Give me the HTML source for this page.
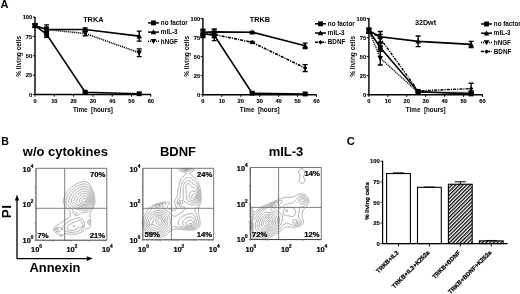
<!DOCTYPE html>
<html><head><meta charset="utf-8"><style>
html,body{margin:0;padding:0;background:#fff;overflow:hidden;}
svg{display:block;}
text{font-family:'Liberation Sans',Arial,sans-serif;}
.sb{stroke:#000;stroke-width:0.22px;}
.sc{stroke:#000;stroke-width:0.12px;}
</style></head><body>
<svg width="520" height="294" viewBox="0 0 520 294">
<rect width="520" height="294" fill="#fff"/>
<path d="M35.00,16.70 V94.50 H150.80" fill="none" stroke="#000" stroke-width="1.4"/>
<path d="M32.80,94.50 H35.00" stroke="#000" stroke-width="1"/>
<text x="32.20" y="96.60" font-size="5.7" font-weight="bold" text-anchor="end" fill="#000" class="sc">0</text>
<path d="M32.80,75.17 H35.00" stroke="#000" stroke-width="1"/>
<text x="32.20" y="77.27" font-size="5.7" font-weight="bold" text-anchor="end" fill="#000" class="sc">25</text>
<path d="M32.80,55.85 H35.00" stroke="#000" stroke-width="1"/>
<text x="32.20" y="57.95" font-size="5.7" font-weight="bold" text-anchor="end" fill="#000" class="sc">50</text>
<path d="M32.80,36.52 H35.00" stroke="#000" stroke-width="1"/>
<text x="32.20" y="38.62" font-size="5.7" font-weight="bold" text-anchor="end" fill="#000" class="sc">75</text>
<path d="M32.80,17.20 H35.00" stroke="#000" stroke-width="1"/>
<text x="32.20" y="19.30" font-size="5.7" font-weight="bold" text-anchor="end" fill="#000" class="sc">100</text>
<path d="M35.00,94.50 V96.70" stroke="#000" stroke-width="1"/>
<text x="35.00" y="102.90" font-size="5.7" font-weight="bold" text-anchor="middle" fill="#000" class="sc">0</text>
<path d="M54.30,94.50 V96.70" stroke="#000" stroke-width="1"/>
<text x="54.30" y="102.90" font-size="5.7" font-weight="bold" text-anchor="middle" fill="#000" class="sc">10</text>
<path d="M73.60,94.50 V96.70" stroke="#000" stroke-width="1"/>
<text x="73.60" y="102.90" font-size="5.7" font-weight="bold" text-anchor="middle" fill="#000" class="sc">20</text>
<path d="M92.90,94.50 V96.70" stroke="#000" stroke-width="1"/>
<text x="92.90" y="102.90" font-size="5.7" font-weight="bold" text-anchor="middle" fill="#000" class="sc">30</text>
<path d="M112.20,94.50 V96.70" stroke="#000" stroke-width="1"/>
<text x="112.20" y="102.90" font-size="5.7" font-weight="bold" text-anchor="middle" fill="#000" class="sc">40</text>
<path d="M131.50,94.50 V96.70" stroke="#000" stroke-width="1"/>
<text x="131.50" y="102.90" font-size="5.7" font-weight="bold" text-anchor="middle" fill="#000" class="sc">50</text>
<path d="M150.80,94.50 V96.70" stroke="#000" stroke-width="1"/>
<text x="150.80" y="102.90" font-size="5.7" font-weight="bold" text-anchor="middle" fill="#000" class="sc">60</text>
<text x="92.90" y="111.80" font-size="6.3" font-weight="bold" text-anchor="middle" fill="#000" >Time&#160;&#160;[hours]</text>
<text x="21.00" y="56.30" font-size="6.5" font-weight="bold" text-anchor="middle" fill="#000" transform="rotate(-90 21.00 56.3)">% living cells</text>
<text x="93.30" y="21.80" font-size="7.3" font-weight="bold" text-anchor="middle" fill="#000" >TRKA</text>
<path d="M35.00,25.70 L46.58,34.21 L85.18,92.18 L139.22,93.73" fill="none" stroke="#000" stroke-width="1.6" />
<path d="M35.00,24.16 V27.25 M32.50,24.16 h5.0 M32.50,27.25 h5.0" stroke="#000" stroke-width="1.35" fill="none"/>
<path d="M46.58,31.11 V37.30 M44.08,31.11 h5.0 M44.08,37.30 h5.0" stroke="#000" stroke-width="1.35" fill="none"/>
<path d="M85.18,91.41 V92.95 M82.68,91.41 h5.0 M82.68,92.95 h5.0" stroke="#000" stroke-width="1.35" fill="none"/>
<path d="M139.22,92.95 V94.50 M136.72,92.95 h5.0 M136.72,94.50 h5.0" stroke="#000" stroke-width="1.35" fill="none"/>
<rect x="32.55" y="23.25" width="4.90" height="4.90" fill="#000"/>
<rect x="44.13" y="31.76" width="4.90" height="4.90" fill="#000"/>
<rect x="82.73" y="89.73" width="4.90" height="4.90" fill="#000"/>
<rect x="136.77" y="91.28" width="4.90" height="4.90" fill="#000"/>
<path d="M35.00,25.70 L46.58,29.57 L85.18,29.57 L139.22,36.14" fill="none" stroke="#000" stroke-width="1.6" />
<path d="M35.00,24.16 V27.25 M32.50,24.16 h5.0 M32.50,27.25 h5.0" stroke="#000" stroke-width="1.35" fill="none"/>
<path d="M46.58,24.93 V34.21 M44.08,24.93 h5.0 M44.08,34.21 h5.0" stroke="#000" stroke-width="1.35" fill="none"/>
<path d="M85.18,28.02 V31.11 M82.68,28.02 h5.0 M82.68,31.11 h5.0" stroke="#000" stroke-width="1.35" fill="none"/>
<path d="M139.22,31.11 V41.16 M136.72,31.11 h5.0 M136.72,41.16 h5.0" stroke="#000" stroke-width="1.35" fill="none"/>
<path d="M35.00,22.90 L37.80,27.94 L32.20,27.94Z" fill="#000"/>
<path d="M46.58,26.77 L49.38,31.81 L43.78,31.81Z" fill="#000"/>
<path d="M85.18,26.77 L87.98,31.81 L82.38,31.81Z" fill="#000"/>
<path d="M139.22,33.34 L142.02,38.38 L136.42,38.38Z" fill="#000"/>
<path d="M35.00,25.70 L46.58,29.57 L85.18,33.43 L139.22,52.76" fill="none" stroke="#000" stroke-width="1.6" stroke-dasharray="1.1 0.9"/>
<path d="M35.00,24.16 V27.25 M32.50,24.16 h5.0 M32.50,27.25 h5.0" stroke="#000" stroke-width="1.35" fill="none"/>
<path d="M46.58,27.25 V31.89 M44.08,27.25 h5.0 M44.08,31.89 h5.0" stroke="#000" stroke-width="1.35" fill="none"/>
<path d="M85.18,31.11 V35.75 M82.68,31.11 h5.0 M82.68,35.75 h5.0" stroke="#000" stroke-width="1.35" fill="none"/>
<path d="M139.22,48.89 V56.62 M136.72,48.89 h5.0 M136.72,56.62 h5.0" stroke="#000" stroke-width="1.35" fill="none"/>
<path d="M35.00,28.50 L37.80,23.46 L32.20,23.46Z" fill="#000"/>
<path d="M46.58,32.37 L49.38,27.33 L43.78,27.33Z" fill="#000"/>
<path d="M85.18,36.23 L87.98,31.19 L82.38,31.19Z" fill="#000"/>
<path d="M139.22,55.56 L142.02,50.52 L136.42,50.52Z" fill="#000"/>
<path d="M148.00,22.90 h11" stroke="#000" stroke-width="1.5" />
<rect x="151.05" y="20.45" width="4.90" height="4.90" fill="#000"/>
<text x="160.80" y="25.10" font-size="6.3" font-weight="bold" text-anchor="start" fill="#000" >no factor</text>
<path d="M148.00,32.10 h11" stroke="#000" stroke-width="1.5" />
<path d="M153.50,29.30 L156.30,34.34 L150.70,34.34Z" fill="#000"/>
<text x="160.80" y="34.30" font-size="6.3" font-weight="bold" text-anchor="start" fill="#000" >mIL-3</text>
<path d="M148.00,41.30 h11" stroke="#000" stroke-width="1.5" stroke-dasharray="1.1 0.9"/>
<path d="M153.50,44.10 L156.30,39.06 L150.70,39.06Z" fill="#000"/>
<text x="160.80" y="43.50" font-size="6.3" font-weight="bold" text-anchor="start" fill="#000" >hNGF</text>
<path d="M202.90,18.00 V94.70 H316.50" fill="none" stroke="#000" stroke-width="1.4"/>
<path d="M200.70,94.70 H202.90" stroke="#000" stroke-width="1"/>
<text x="200.10" y="96.80" font-size="5.7" font-weight="bold" text-anchor="end" fill="#000" class="sc">0</text>
<path d="M200.70,75.65 H202.90" stroke="#000" stroke-width="1"/>
<text x="200.10" y="77.75" font-size="5.7" font-weight="bold" text-anchor="end" fill="#000" class="sc">25</text>
<path d="M200.70,56.60 H202.90" stroke="#000" stroke-width="1"/>
<text x="200.10" y="58.70" font-size="5.7" font-weight="bold" text-anchor="end" fill="#000" class="sc">50</text>
<path d="M200.70,37.55 H202.90" stroke="#000" stroke-width="1"/>
<text x="200.10" y="39.65" font-size="5.7" font-weight="bold" text-anchor="end" fill="#000" class="sc">75</text>
<path d="M200.70,18.50 H202.90" stroke="#000" stroke-width="1"/>
<text x="200.10" y="20.60" font-size="5.7" font-weight="bold" text-anchor="end" fill="#000" class="sc">100</text>
<path d="M202.90,94.70 V96.90" stroke="#000" stroke-width="1"/>
<text x="202.90" y="103.10" font-size="5.7" font-weight="bold" text-anchor="middle" fill="#000" class="sc">0</text>
<path d="M221.83,94.70 V96.90" stroke="#000" stroke-width="1"/>
<text x="221.83" y="103.10" font-size="5.7" font-weight="bold" text-anchor="middle" fill="#000" class="sc">10</text>
<path d="M240.77,94.70 V96.90" stroke="#000" stroke-width="1"/>
<text x="240.77" y="103.10" font-size="5.7" font-weight="bold" text-anchor="middle" fill="#000" class="sc">20</text>
<path d="M259.70,94.70 V96.90" stroke="#000" stroke-width="1"/>
<text x="259.70" y="103.10" font-size="5.7" font-weight="bold" text-anchor="middle" fill="#000" class="sc">30</text>
<path d="M278.63,94.70 V96.90" stroke="#000" stroke-width="1"/>
<text x="278.63" y="103.10" font-size="5.7" font-weight="bold" text-anchor="middle" fill="#000" class="sc">40</text>
<path d="M297.57,94.70 V96.90" stroke="#000" stroke-width="1"/>
<text x="297.57" y="103.10" font-size="5.7" font-weight="bold" text-anchor="middle" fill="#000" class="sc">50</text>
<path d="M316.50,94.70 V96.90" stroke="#000" stroke-width="1"/>
<text x="316.50" y="103.10" font-size="5.7" font-weight="bold" text-anchor="middle" fill="#000" class="sc">60</text>
<text x="259.70" y="111.80" font-size="6.3" font-weight="bold" text-anchor="middle" fill="#000" >Time&#160;&#160;[hours]</text>
<text x="189.00" y="56.30" font-size="6.5" font-weight="bold" text-anchor="middle" fill="#000" transform="rotate(-90 189.00 56.3)">% living cells</text>
<text x="260.00" y="22.20" font-size="7.3" font-weight="bold" text-anchor="middle" fill="#000" >TRKB</text>
<path d="M202.90,33.74 L214.26,35.26 L252.13,93.18 L305.14,93.94" fill="none" stroke="#000" stroke-width="1.6" />
<path d="M202.90,29.93 V37.55 M200.40,29.93 h5.0 M200.40,37.55 h5.0" stroke="#000" stroke-width="1.35" fill="none"/>
<path d="M214.26,29.93 V40.60 M211.76,29.93 h5.0 M211.76,40.60 h5.0" stroke="#000" stroke-width="1.35" fill="none"/>
<path d="M252.13,92.41 V93.94 M249.63,92.41 h5.0 M249.63,93.94 h5.0" stroke="#000" stroke-width="1.35" fill="none"/>
<path d="M305.14,93.18 V94.70 M302.64,93.18 h5.0 M302.64,94.70 h5.0" stroke="#000" stroke-width="1.35" fill="none"/>
<rect x="200.45" y="31.29" width="4.90" height="4.90" fill="#000"/>
<rect x="211.81" y="32.81" width="4.90" height="4.90" fill="#000"/>
<rect x="249.68" y="90.73" width="4.90" height="4.90" fill="#000"/>
<rect x="302.69" y="91.49" width="4.90" height="4.90" fill="#000"/>
<path d="M202.90,32.22 L214.26,31.91 L252.13,32.22 L305.14,45.78" fill="none" stroke="#000" stroke-width="1.6" />
<path d="M202.90,29.17 V35.26 M200.40,29.17 h5.0 M200.40,35.26 h5.0" stroke="#000" stroke-width="1.35" fill="none"/>
<path d="M214.26,28.86 V34.96 M211.76,28.86 h5.0 M211.76,34.96 h5.0" stroke="#000" stroke-width="1.35" fill="none"/>
<path d="M252.13,31.45 V32.98 M249.63,31.45 h5.0 M249.63,32.98 h5.0" stroke="#000" stroke-width="1.35" fill="none"/>
<path d="M305.14,43.11 V48.45 M302.64,43.11 h5.0 M302.64,48.45 h5.0" stroke="#000" stroke-width="1.35" fill="none"/>
<path d="M202.90,29.42 L205.70,34.46 L200.10,34.46Z" fill="#000"/>
<path d="M214.26,29.11 L217.06,34.15 L211.46,34.15Z" fill="#000"/>
<path d="M252.13,29.42 L254.93,34.46 L249.33,34.46Z" fill="#000"/>
<path d="M305.14,42.98 L307.94,48.02 L302.34,48.02Z" fill="#000"/>
<path d="M202.90,33.74 L214.26,34.50 L252.13,42.27 L305.14,68.03" fill="none" stroke="#000" stroke-width="1.6" stroke-dasharray="3 1.1 1.1 1.1"/>
<path d="M202.90,30.69 V36.79 M200.40,30.69 h5.0 M200.40,36.79 h5.0" stroke="#000" stroke-width="1.35" fill="none"/>
<path d="M214.26,31.45 V37.55 M211.76,31.45 h5.0 M211.76,37.55 h5.0" stroke="#000" stroke-width="1.35" fill="none"/>
<path d="M252.13,41.51 V43.04 M249.63,41.51 h5.0 M249.63,43.04 h5.0" stroke="#000" stroke-width="1.35" fill="none"/>
<path d="M305.14,64.60 V71.46 M302.64,64.60 h5.0 M302.64,71.46 h5.0" stroke="#000" stroke-width="1.35" fill="none"/>
<path d="M202.90,31.54 L205.10,33.74 L202.90,35.94 L200.70,33.74Z" fill="#000"/>
<path d="M214.26,32.30 L216.46,34.50 L214.26,36.70 L212.06,34.50Z" fill="#000"/>
<path d="M252.13,40.07 L254.33,42.27 L252.13,44.47 L249.93,42.27Z" fill="#000"/>
<path d="M305.14,65.83 L307.34,68.03 L305.14,70.23 L302.94,68.03Z" fill="#000"/>
<path d="M315.00,23.80 h11" stroke="#000" stroke-width="1.5" />
<rect x="318.05" y="21.35" width="4.90" height="4.90" fill="#000"/>
<text x="327.80" y="26.00" font-size="6.3" font-weight="bold" text-anchor="start" fill="#000" >no factor</text>
<path d="M315.00,33.00 h11" stroke="#000" stroke-width="1.5" />
<path d="M320.50,30.20 L323.30,35.24 L317.70,35.24Z" fill="#000"/>
<text x="327.80" y="35.20" font-size="6.3" font-weight="bold" text-anchor="start" fill="#000" >mIL-3</text>
<path d="M315.00,42.20 h11" stroke="#000" stroke-width="1.5" stroke-dasharray="3 1.1 1.1 1.1"/>
<path d="M320.50,40.00 L322.70,42.20 L320.50,44.40 L318.30,42.20Z" fill="#000"/>
<text x="327.80" y="44.40" font-size="6.3" font-weight="bold" text-anchor="start" fill="#000" >BDNF</text>
<path d="M368.90,18.00 V94.70 H482.50" fill="none" stroke="#000" stroke-width="1.4"/>
<path d="M366.70,94.70 H368.90" stroke="#000" stroke-width="1"/>
<text x="366.10" y="96.80" font-size="5.7" font-weight="bold" text-anchor="end" fill="#000" class="sc">0</text>
<path d="M366.70,75.65 H368.90" stroke="#000" stroke-width="1"/>
<text x="366.10" y="77.75" font-size="5.7" font-weight="bold" text-anchor="end" fill="#000" class="sc">25</text>
<path d="M366.70,56.60 H368.90" stroke="#000" stroke-width="1"/>
<text x="366.10" y="58.70" font-size="5.7" font-weight="bold" text-anchor="end" fill="#000" class="sc">50</text>
<path d="M366.70,37.55 H368.90" stroke="#000" stroke-width="1"/>
<text x="366.10" y="39.65" font-size="5.7" font-weight="bold" text-anchor="end" fill="#000" class="sc">75</text>
<path d="M366.70,18.50 H368.90" stroke="#000" stroke-width="1"/>
<text x="366.10" y="20.60" font-size="5.7" font-weight="bold" text-anchor="end" fill="#000" class="sc">100</text>
<path d="M368.90,94.70 V96.90" stroke="#000" stroke-width="1"/>
<text x="368.90" y="103.10" font-size="5.7" font-weight="bold" text-anchor="middle" fill="#000" class="sc">0</text>
<path d="M387.83,94.70 V96.90" stroke="#000" stroke-width="1"/>
<text x="387.83" y="103.10" font-size="5.7" font-weight="bold" text-anchor="middle" fill="#000" class="sc">10</text>
<path d="M406.77,94.70 V96.90" stroke="#000" stroke-width="1"/>
<text x="406.77" y="103.10" font-size="5.7" font-weight="bold" text-anchor="middle" fill="#000" class="sc">20</text>
<path d="M425.70,94.70 V96.90" stroke="#000" stroke-width="1"/>
<text x="425.70" y="103.10" font-size="5.7" font-weight="bold" text-anchor="middle" fill="#000" class="sc">30</text>
<path d="M444.63,94.70 V96.90" stroke="#000" stroke-width="1"/>
<text x="444.63" y="103.10" font-size="5.7" font-weight="bold" text-anchor="middle" fill="#000" class="sc">40</text>
<path d="M463.57,94.70 V96.90" stroke="#000" stroke-width="1"/>
<text x="463.57" y="103.10" font-size="5.7" font-weight="bold" text-anchor="middle" fill="#000" class="sc">50</text>
<path d="M482.50,94.70 V96.90" stroke="#000" stroke-width="1"/>
<text x="482.50" y="103.10" font-size="5.7" font-weight="bold" text-anchor="middle" fill="#000" class="sc">60</text>
<text x="425.70" y="111.80" font-size="6.3" font-weight="bold" text-anchor="middle" fill="#000" >Time&#160;&#160;[hours]</text>
<text x="355.00" y="56.30" font-size="6.5" font-weight="bold" text-anchor="middle" fill="#000" transform="rotate(-90 355.00 56.3)">% living cells</text>
<text x="425.50" y="24.70" font-size="7.2" font-weight="bold" text-anchor="middle" fill="#000" >32Dwt</text>
<path d="M368.90,30.69 L380.26,47.46 L418.13,91.65 L471.14,93.94" fill="none" stroke="#000" stroke-width="1.6" />
<path d="M368.90,28.41 V32.98 M366.40,28.41 h5.0 M366.40,32.98 h5.0" stroke="#000" stroke-width="1.35" fill="none"/>
<path d="M380.26,43.65 V51.27 M377.76,43.65 h5.0 M377.76,51.27 h5.0" stroke="#000" stroke-width="1.35" fill="none"/>
<path d="M418.13,90.89 V92.41 M415.63,90.89 h5.0 M415.63,92.41 h5.0" stroke="#000" stroke-width="1.35" fill="none"/>
<path d="M471.14,93.18 V94.70 M468.64,93.18 h5.0 M468.64,94.70 h5.0" stroke="#000" stroke-width="1.35" fill="none"/>
<rect x="366.45" y="28.24" width="4.90" height="4.90" fill="#000"/>
<rect x="377.81" y="45.01" width="4.90" height="4.90" fill="#000"/>
<rect x="415.68" y="89.20" width="4.90" height="4.90" fill="#000"/>
<rect x="468.69" y="91.49" width="4.90" height="4.90" fill="#000"/>
<path d="M368.90,30.69 L380.26,36.79 L418.13,41.36 L471.14,44.41" fill="none" stroke="#000" stroke-width="1.6" />
<path d="M368.90,28.41 V32.98 M366.40,28.41 h5.0 M366.40,32.98 h5.0" stroke="#000" stroke-width="1.35" fill="none"/>
<path d="M380.26,31.45 V42.12 M377.76,31.45 h5.0 M377.76,42.12 h5.0" stroke="#000" stroke-width="1.35" fill="none"/>
<path d="M418.13,36.03 V46.69 M415.63,36.03 h5.0 M415.63,46.69 h5.0" stroke="#000" stroke-width="1.35" fill="none"/>
<path d="M471.14,41.36 V47.46 M468.64,41.36 h5.0 M468.64,47.46 h5.0" stroke="#000" stroke-width="1.35" fill="none"/>
<path d="M368.90,27.89 L371.70,32.93 L366.10,32.93Z" fill="#000"/>
<path d="M380.26,33.99 L383.06,39.03 L377.46,39.03Z" fill="#000"/>
<path d="M418.13,38.56 L420.93,43.60 L415.33,43.60Z" fill="#000"/>
<path d="M471.14,41.61 L473.94,46.65 L468.34,46.65Z" fill="#000"/>
<path d="M368.90,30.69 L380.26,58.12 L418.13,92.41 L471.14,92.41" fill="none" stroke="#000" stroke-width="1.4" stroke-dasharray="1.1 0.9"/>
<path d="M368.90,28.41 V32.98 M366.40,28.41 h5.0 M366.40,32.98 h5.0" stroke="#000" stroke-width="1.35" fill="none"/>
<path d="M380.26,51.27 V64.98 M377.76,51.27 h5.0 M377.76,64.98 h5.0" stroke="#000" stroke-width="1.35" fill="none"/>
<path d="M418.13,91.65 V93.18 M415.63,91.65 h5.0 M415.63,93.18 h5.0" stroke="#000" stroke-width="1.35" fill="none"/>
<path d="M471.14,91.65 V93.18 M468.64,91.65 h5.0 M468.64,93.18 h5.0" stroke="#000" stroke-width="1.35" fill="none"/>
<path d="M368.90,33.49 L371.70,28.45 L366.10,28.45Z" fill="#000"/>
<path d="M380.26,60.92 L383.06,55.88 L377.46,55.88Z" fill="#000"/>
<path d="M418.13,95.21 L420.93,90.17 L415.33,90.17Z" fill="#000"/>
<path d="M471.14,95.21 L473.94,90.17 L468.34,90.17Z" fill="#000"/>
<path d="M368.90,30.69 L380.26,38.31 L418.13,90.89 L471.14,88.60" fill="none" stroke="#000" stroke-width="1.4" stroke-dasharray="3 1.1 1.1 1.1"/>
<path d="M368.90,28.41 V32.98 M366.40,28.41 h5.0 M366.40,32.98 h5.0" stroke="#000" stroke-width="1.35" fill="none"/>
<path d="M380.26,34.50 V42.12 M377.76,34.50 h5.0 M377.76,42.12 h5.0" stroke="#000" stroke-width="1.35" fill="none"/>
<path d="M418.13,90.13 V91.65 M415.63,90.13 h5.0 M415.63,91.65 h5.0" stroke="#000" stroke-width="1.35" fill="none"/>
<path d="M471.14,83.27 V93.94 M468.64,83.27 h5.0 M468.64,93.94 h5.0" stroke="#000" stroke-width="1.35" fill="none"/>
<path d="M368.90,28.49 L371.10,30.69 L368.90,32.89 L366.70,30.69Z" fill="#000"/>
<path d="M380.26,36.11 L382.46,38.31 L380.26,40.51 L378.06,38.31Z" fill="#000"/>
<path d="M418.13,88.69 L420.33,90.89 L418.13,93.09 L415.93,90.89Z" fill="#000"/>
<path d="M471.14,86.40 L473.34,88.60 L471.14,90.80 L468.94,88.60Z" fill="#000"/>
<path d="M481.00,24.00 h11" stroke="#000" stroke-width="1.5" />
<rect x="484.05" y="21.55" width="4.90" height="4.90" fill="#000"/>
<text x="493.80" y="26.20" font-size="6.3" font-weight="bold" text-anchor="start" fill="#000" >no factor</text>
<path d="M481.00,33.20 h11" stroke="#000" stroke-width="1.5" />
<path d="M486.50,30.40 L489.30,35.44 L483.70,35.44Z" fill="#000"/>
<text x="493.80" y="35.40" font-size="6.3" font-weight="bold" text-anchor="start" fill="#000" >mIL-3</text>
<path d="M481.00,42.40 h11" stroke="#000" stroke-width="1.5" stroke-dasharray="1.1 0.9"/>
<path d="M486.50,45.20 L489.30,40.16 L483.70,40.16Z" fill="#000"/>
<text x="493.80" y="44.60" font-size="6.3" font-weight="bold" text-anchor="start" fill="#000" >hNGF</text>
<path d="M481.00,51.60 h11" stroke="#000" stroke-width="1.5" stroke-dasharray="3 1.1 1.1 1.1"/>
<path d="M486.50,49.40 L488.70,51.60 L486.50,53.80 L484.30,51.60Z" fill="#000"/>
<text x="493.80" y="53.80" font-size="6.3" font-weight="bold" text-anchor="start" fill="#000" >BDNF</text>
<text x="0.50" y="8.30" font-size="11.0" font-weight="bold" text-anchor="start" fill="#000" >A</text>
<text x="1.20" y="144.60" font-size="10.6" font-weight="bold" text-anchor="start" fill="#000" >B</text>
<text x="346.80" y="144.60" font-size="11.0" font-weight="bold" text-anchor="start" fill="#000" >C</text>
<path d="M61.5,236.4 60.8,236.4 60.0,236.1 59.5,235.6 59.1,235.1 58.8,234.4 58.2,233.9 57.7,233.6 57.0,233.2 56.2,232.9 55.6,232.6 55.0,232.1 54.5,231.6 54.1,231.1 53.8,230.3 53.6,229.6 53.7,228.8 54.0,228.1 54.2,227.5 54.8,226.9 55.2,226.5 55.8,226.1 56.5,225.6 57.1,225.3 57.8,224.9 58.4,224.6 59.0,224.2 59.6,223.8 60.2,223.3 60.8,223.0 61.2,222.6 61.8,222.2 62.2,221.9 62.8,221.5 63.2,221.2 63.8,220.8 64.5,220.3 65.2,219.9 65.8,219.6 66.5,219.1 67.1,218.8 67.8,218.4 68.3,218.1 69.0,217.6 69.5,217.1 70.0,216.6 70.3,216.1 70.5,215.3 70.4,214.6 70.3,213.8 70.2,213.1 70.0,212.3 69.8,211.6 69.5,210.8 69.2,210.3 68.8,209.8 68.3,209.3 67.9,208.8 67.4,208.3 66.9,207.8 66.4,207.3 65.9,206.8 65.5,206.3 65.1,205.8 64.7,205.3 64.4,204.8 64.0,204.2 63.7,203.6 63.4,202.8 63.3,202.1 63.3,201.3 63.4,200.6 63.5,199.8 63.7,199.1 63.9,198.3 64.1,197.6 64.4,196.8 64.7,196.1 65.0,195.4 65.3,194.8 65.7,194.1 66.0,193.5 66.4,192.8 66.8,192.3 67.1,191.8 67.5,191.3 67.9,190.8 68.3,190.3 68.7,189.8 69.2,189.3 69.7,188.8 70.2,188.3 70.7,187.8 71.2,187.3 71.8,186.9 72.2,186.6 72.8,186.2 73.2,185.8 73.8,185.5 74.4,185.1 75.0,184.7 75.7,184.3 76.2,184.0 77.0,183.6 77.8,183.3 78.4,183.1 79.0,182.8 79.7,182.6 80.5,182.3 81.2,182.1 82.0,181.9 82.7,181.8 83.5,181.7 84.2,181.6 85.0,181.5 85.8,181.5 86.5,181.7 87.2,182.1 87.8,182.4 88.2,182.8 88.8,183.2 89.2,183.8 89.7,184.3 90.1,184.8 90.4,185.3 90.9,186.1 91.2,186.7 91.6,187.3 91.9,188.1 92.2,188.7 92.5,189.3 92.8,190.0 93.0,190.6 93.2,191.3 93.4,192.1 93.7,192.8 93.9,193.6 94.0,194.2 94.1,194.8 94.3,195.6 94.4,196.3 94.6,197.1 94.7,197.8 94.8,198.5 94.8,199.3 94.9,200.1 94.9,200.8 95.0,201.6 94.9,202.3 94.8,203.1 94.7,203.8 94.5,204.5 94.2,205.3 94.0,206.0 93.8,206.6 93.5,207.1 93.2,207.8 92.8,208.5 92.3,209.3 91.8,210.1 91.5,210.6 91.1,211.3 90.6,212.1 90.2,212.7 90.0,213.3 89.8,214.1 89.7,214.8 89.7,215.6 89.9,216.3 90.1,217.1 90.2,217.8 90.4,218.6 90.5,219.1 90.6,219.8 90.7,220.6 90.7,221.3 90.7,222.1 90.7,222.8 90.7,223.6 90.6,224.3 90.4,225.1 90.3,225.8 90.0,226.6 89.8,227.1 89.3,227.8 88.8,228.2 88.0,228.4 87.2,228.4 86.5,228.5 85.8,228.8 85.2,229.2 84.8,229.6 84.2,230.0 83.8,230.4 83.2,230.7 82.8,231.1 82.2,231.4 81.7,231.8 81.0,232.2 80.4,232.6 79.8,232.9 79.0,233.2 78.2,233.5 77.5,233.7 76.8,234.0 76.0,234.1 75.2,234.2 74.5,234.3 73.8,234.4 73.0,234.4 72.2,234.4 71.5,234.4 70.8,234.3 70.0,234.3 69.2,234.2 68.5,234.1 67.8,234.0 67.0,233.9 66.2,233.8 65.5,233.7 64.8,233.7 64.0,233.9 63.5,234.3 63.2,234.8 62.8,235.4 62.2,236.0 61.6,236.3 61.5,236.4Z M77.0,215.3 76.2,215.4 75.5,215.2 74.8,215.0 74.1,214.6 73.6,214.1 73.2,213.4 73.1,212.8 73.1,212.1 73.2,211.3 73.1,210.6 72.8,209.8 72.3,209.3 71.8,208.8 71.2,208.4 70.8,208.0 70.2,207.6 69.8,207.2 69.2,206.8 68.8,206.3 68.2,205.8 67.8,205.3 67.4,204.8 67.0,204.3 66.6,203.6 66.2,202.8 66.1,202.1 66.0,201.3 66.1,200.6 66.2,199.8 66.4,199.1 66.6,198.3 66.9,197.6 67.2,196.8 67.5,196.1 67.9,195.3 68.2,194.6 68.6,194.1 69.0,193.4 69.4,192.8 69.8,192.3 70.2,191.8 70.6,191.3 71.1,190.8 71.6,190.3 72.1,189.8 72.6,189.3 73.2,188.8 73.8,188.4 74.2,188.0 74.8,187.6 75.2,187.3 76.0,186.8 76.8,186.4 77.4,186.1 78.0,185.8 78.8,185.4 79.5,185.1 80.2,184.9 81.0,184.6 81.8,184.4 82.5,184.2 83.2,184.1 84.0,184.0 84.8,183.9 85.5,183.9 86.2,184.0 86.9,184.3 87.5,184.7 88.0,185.1 88.5,185.5 89.0,186.1 89.4,186.6 89.7,187.1 90.2,187.8 90.6,188.6 91.0,189.3 91.4,190.1 91.7,190.8 92.0,191.6 92.2,192.3 92.5,193.1 92.7,193.8 92.9,194.6 93.0,195.3 93.2,196.1 93.3,196.8 93.5,197.6 93.6,198.3 93.7,199.1 93.7,199.8 93.8,200.6 93.8,201.3 93.8,202.1 93.7,202.8 93.5,203.6 93.3,204.3 93.1,205.1 92.8,205.8 92.5,206.4 92.2,207.1 91.8,207.7 91.4,208.3 91.0,208.8 90.6,209.3 90.2,209.8 89.8,210.3 89.2,210.8 88.8,211.2 88.3,211.6 87.5,211.9 86.8,212.2 86.0,212.3 85.2,212.3 84.5,212.3 83.8,212.3 83.0,212.4 82.2,212.5 81.5,212.7 80.8,213.0 80.2,213.4 79.8,213.8 79.2,214.2 78.8,214.6 78.0,215.0 77.2,215.3 77.0,215.3Z M73.5,232.3 72.8,232.4 72.0,232.4 71.2,232.4 70.5,232.4 69.8,232.3 69.0,232.2 68.2,232.0 67.5,231.8 66.8,231.6 66.1,231.3 65.5,231.0 64.8,230.6 64.2,230.3 63.5,229.8 63.0,229.5 62.5,229.1 61.8,228.9 61.4,229.6 61.0,230.1 60.5,230.8 60.0,231.3 59.2,231.7 58.6,231.8 57.8,231.8 57.0,231.6 56.3,231.3 55.8,230.9 55.2,230.3 55.0,229.6 55.1,228.8 55.5,228.1 56.0,227.7 56.8,227.5 57.5,227.4 58.2,227.4 59.0,227.5 59.8,227.7 60.5,228.0 61.2,228.3 61.8,228.6 62.1,228.1 62.5,227.4 62.8,226.8 63.2,226.2 63.7,225.6 64.1,225.1 64.5,224.6 65.0,224.1 65.5,223.6 66.0,223.2 66.5,222.8 67.0,222.5 67.7,222.1 68.2,221.7 69.0,221.3 69.8,220.9 70.5,220.6 71.1,220.3 71.8,220.0 72.5,219.6 73.2,219.3 74.0,218.9 74.8,218.6 75.4,218.3 76.2,218.1 77.0,217.9 77.8,217.8 78.5,217.9 79.2,218.0 80.0,218.1 80.8,218.4 81.5,218.8 82.2,219.2 82.8,219.7 83.2,220.2 83.6,220.8 84.0,221.6 84.2,222.3 84.4,223.1 84.5,223.8 84.6,224.6 84.6,225.3 84.5,226.1 84.3,226.8 83.8,227.6 83.4,228.1 82.8,228.5 82.0,228.9 81.3,229.3 80.8,229.6 80.0,230.0 79.4,230.3 78.8,230.7 78.1,231.1 77.5,231.3 76.9,231.6 76.2,231.8 75.5,232.0 74.8,232.1 74.0,232.3 73.5,232.3Z M89.0,224.5 88.4,224.3 88.1,223.6 87.9,222.8 87.9,222.1 87.9,221.3 88.1,220.6 88.4,219.8 89.0,219.6 89.4,220.1 89.6,220.8 89.7,221.6 89.7,222.3 89.6,223.1 89.4,223.8 89.0,224.5Z M61.2,235.6 60.5,235.4 60.2,234.8 60.5,234.2 61.2,234.0 61.7,234.6 61.6,235.3 61.2,235.6Z M86.8,210.1 86.0,210.3 85.2,210.3 84.5,210.3 83.8,210.2 83.0,210.2 82.2,210.1 81.5,210.1 80.8,210.0 80.0,209.9 79.4,209.8 78.8,209.7 78.0,209.5 77.2,209.2 76.5,208.9 75.8,208.6 75.0,208.1 74.4,207.8 73.8,207.4 73.2,207.1 72.5,206.6 72.0,206.2 71.5,205.8 71.0,205.4 70.5,204.9 70.0,204.4 69.6,203.8 69.2,203.3 68.9,202.6 68.8,201.9 68.7,201.1 68.8,200.3 69.0,199.6 69.2,198.8 69.4,198.1 69.7,197.3 70.0,196.7 70.3,196.1 70.8,195.3 71.2,194.6 71.6,194.1 71.9,193.6 72.3,193.1 72.8,192.6 73.2,192.1 73.7,191.6 74.2,191.1 74.8,190.6 75.2,190.2 75.8,189.8 76.2,189.5 76.8,189.2 77.3,188.8 78.0,188.4 78.7,188.1 79.2,187.8 79.8,187.6 80.4,187.3 81.2,187.1 81.8,186.9 82.5,186.7 83.2,186.5 84.0,186.4 84.8,186.3 85.5,186.3 86.2,186.4 87.0,186.8 87.5,187.2 88.0,187.6 88.4,188.1 88.8,188.6 89.2,189.1 89.7,189.8 90.0,190.4 90.3,191.1 90.7,191.8 91.0,192.6 91.2,193.3 91.5,194.1 91.7,194.8 91.9,195.6 92.1,196.3 92.2,197.1 92.3,197.8 92.4,198.6 92.5,199.3 92.6,200.1 92.7,200.8 92.7,201.6 92.6,202.3 92.5,203.0 92.3,203.8 92.0,204.6 91.8,205.2 91.5,205.8 91.0,206.6 90.7,207.1 90.3,207.6 89.9,208.1 89.4,208.6 88.8,209.1 88.2,209.4 87.6,209.8 86.9,210.1 86.8,210.1Z M76.5,213.3 75.8,213.4 75.4,212.8 76.0,212.4 76.6,212.6 76.6,213.3 76.5,213.3Z M71.2,230.6 70.5,230.6 69.8,230.5 69.0,230.3 68.3,230.1 67.8,229.6 67.3,229.1 67.1,228.3 67.2,227.6 67.5,226.8 67.9,226.1 68.3,225.6 68.8,225.1 69.4,224.6 70.0,224.1 70.8,223.7 71.5,223.3 72.1,223.1 72.7,222.8 73.4,222.6 74.0,222.3 74.6,222.1 75.2,221.8 75.8,221.6 76.5,221.2 77.2,220.9 78.0,220.6 78.8,220.4 79.5,220.4 80.2,220.5 81.0,220.8 81.5,221.3 81.9,222.1 82.0,222.8 82.2,223.6 82.5,224.2 82.9,224.8 83.2,225.6 83.1,226.3 82.8,226.9 82.2,227.2 81.5,227.4 80.8,227.3 80.0,227.2 79.2,227.3 78.7,227.6 78.0,228.0 77.5,228.3 77.0,228.7 76.4,229.1 75.8,229.4 75.0,229.7 74.2,230.0 73.5,230.2 72.8,230.4 72.0,230.5 71.2,230.6Z M58.0,230.3 57.2,230.2 56.5,230.1 56.0,229.6 56.1,228.8 56.8,228.6 57.5,229.0 58.0,229.4 58.3,230.1 58.0,230.3Z M86.2,208.6 85.5,208.7 84.8,208.7 84.0,208.6 83.3,208.6 82.5,208.4 81.8,208.3 81.0,208.2 80.3,208.1 79.8,207.9 79.0,207.7 78.2,207.4 77.5,207.2 76.8,206.8 76.2,206.6 75.5,206.2 74.8,205.8 74.2,205.4 73.8,205.1 73.2,204.6 72.8,204.1 72.3,203.6 71.9,203.1 71.6,202.3 71.4,201.6 71.4,200.8 71.6,200.1 71.8,199.3 72.0,198.6 72.2,197.9 72.5,197.3 72.8,196.8 73.2,196.1 73.7,195.3 74.1,194.8 74.5,194.3 74.9,193.8 75.4,193.3 75.9,192.8 76.5,192.3 77.0,191.9 77.5,191.5 78.0,191.2 78.6,190.8 79.2,190.4 80.0,190.1 80.5,189.8 81.2,189.6 81.8,189.3 82.5,189.1 83.2,188.9 83.9,188.8 84.8,188.7 85.5,188.7 86.2,188.8 86.8,189.1 87.2,189.4 87.8,189.9 88.2,190.5 88.6,191.1 89.0,191.6 89.4,192.3 89.7,193.1 90.0,193.7 90.2,194.3 90.5,195.1 90.7,195.8 90.9,196.6 91.1,197.3 91.2,198.1 91.3,198.8 91.4,199.6 91.5,200.3 91.5,201.1 91.5,201.8 91.4,202.6 91.2,203.3 91.0,204.0 90.8,204.6 90.4,205.3 90.0,205.9 89.5,206.5 89.0,207.0 88.5,207.5 88.0,207.8 87.2,208.3 86.5,208.5 86.2,208.6Z M74.2,226.6 73.5,226.6 73.0,226.1 73.5,225.6 74.2,225.5 74.7,226.1 74.2,226.6Z M82.0,226.3 82.0,225.7 82.0,226.3Z M86.5,207.1 85.8,207.2 85.0,207.2 84.2,207.2 83.5,207.1 82.8,207.0 82.0,206.8 81.2,206.7 80.5,206.5 79.8,206.2 79.0,206.0 78.2,205.6 77.5,205.3 77.0,205.0 76.3,204.6 75.8,204.1 75.2,203.7 74.8,203.1 74.4,202.6 74.1,201.8 74.1,201.1 74.2,200.3 74.4,199.6 74.6,198.8 75.0,198.1 75.2,197.5 75.7,196.8 76.0,196.3 76.4,195.8 76.8,195.3 77.2,194.8 77.8,194.4 78.2,193.9 78.7,193.6 79.2,193.2 79.8,192.8 80.5,192.4 81.2,192.1 81.9,191.8 82.5,191.6 83.2,191.4 84.0,191.2 84.8,191.1 85.5,191.0 86.2,191.2 87.0,191.7 87.5,192.3 87.9,192.8 88.4,193.6 88.8,194.2 89.0,194.8 89.2,195.4 89.5,196.1 89.7,196.8 89.9,197.6 90.1,198.3 90.2,199.1 90.3,199.8 90.4,200.6 90.4,201.3 90.4,202.1 90.2,202.8 90.0,203.4 89.8,204.0 89.4,204.6 89.1,205.1 88.7,205.6 88.2,206.0 87.8,206.4 87.1,206.8 86.5,207.1 86.5,207.1Z M85.8,205.8 85.0,205.8 84.2,205.8 83.5,205.7 82.8,205.6 82.0,205.4 81.2,205.1 80.5,204.9 79.8,204.6 79.0,204.2 78.4,203.8 77.8,203.3 77.3,202.8 77.0,202.3 76.8,201.7 76.7,201.1 76.9,200.3 77.1,199.6 77.4,198.8 77.8,198.1 78.1,197.6 78.5,197.1 79.0,196.6 79.5,196.1 80.0,195.6 80.5,195.2 81.0,194.9 81.5,194.6 82.2,194.2 83.0,193.9 83.8,193.7 84.5,193.5 85.2,193.4 86.0,193.5 86.8,194.0 87.2,194.6 87.6,195.1 88.0,195.8 88.2,196.4 88.5,197.1 88.7,197.8 88.9,198.6 89.1,199.3 89.2,200.1 89.2,200.8 89.3,201.6 89.2,202.3 88.9,203.1 88.5,203.8 88.2,204.3 87.8,204.8 87.2,205.2 86.7,205.6 86.0,205.8 85.8,205.8Z M86.2,204.3 85.5,204.5 84.8,204.5 84.0,204.4 83.2,204.2 82.7,204.1 82.0,203.8 81.4,203.6 80.8,203.2 80.2,202.8 79.8,202.4 79.4,201.8 79.4,201.1 79.5,200.4 79.7,199.8 80.0,199.2 80.4,198.6 80.9,198.1 81.4,197.6 82.0,197.1 82.5,196.7 83.2,196.3 84.0,196.1 84.8,195.9 85.5,195.8 86.1,196.1 86.7,196.6 87.0,197.1 87.4,197.8 87.7,198.6 87.9,199.3 88.0,199.9 88.1,200.6 88.1,201.3 88.1,202.1 87.8,202.8 87.3,203.6 86.8,204.0 86.2,204.3Z M85.8,203.1 85.0,203.2 84.4,203.1 83.8,202.9 83.0,202.6 82.3,202.1 82.0,201.3 82.1,200.6 82.5,199.9 83.0,199.3 83.5,198.9 84.1,198.6 84.7,198.3 85.5,198.2 86.1,198.6 86.5,199.1 86.8,199.8 86.9,200.6 87.0,201.3 86.9,202.1 86.5,202.7 86.0,203.0 85.8,203.1Z M85.5,201.9 84.8,201.6 84.8,201.0 85.2,200.6 85.9,201.1 85.8,201.7 85.5,201.9Z" fill="none" stroke="#787878" stroke-width="0.6" stroke-linejoin="round"/>
<path d="M64.70,168.30 V240.20 M36.00,208.30 H106.80" stroke="#707070" stroke-width="0.9"/>
<path d="M36.00,168.30 H106.80 V240.20" fill="none" stroke="#666" stroke-width="0.9"/>
<path d="M36.00,168.30 V240.20 H106.80" fill="none" stroke="#444" stroke-width="1.0"/>
<path d="M36.00,240.20 v1.6 M36.00,240.20 h-1.6 M41.33,240.20 v0.9 M36.00,234.79 h-0.9 M44.45,240.20 v0.9 M36.00,231.62 h-0.9 M46.66,240.20 v0.9 M36.00,229.38 h-0.9 M48.37,240.20 v0.9 M36.00,227.64 h-0.9 M49.77,240.20 v0.9 M36.00,226.21 h-0.9 M50.96,240.20 v0.9 M36.00,225.01 h-0.9 M51.98,240.20 v0.9 M36.00,223.97 h-0.9 M52.89,240.20 v0.9 M36.00,223.05 h-0.9 M53.70,240.20 v1.6 M36.00,222.22 h-1.6 M59.03,240.20 v0.9 M36.00,216.81 h-0.9 M62.15,240.20 v0.9 M36.00,213.65 h-0.9 M64.36,240.20 v0.9 M36.00,211.40 h-0.9 M66.07,240.20 v0.9 M36.00,209.66 h-0.9 M67.47,240.20 v0.9 M36.00,208.24 h-0.9 M68.66,240.20 v0.9 M36.00,207.03 h-0.9 M69.68,240.20 v0.9 M36.00,205.99 h-0.9 M70.59,240.20 v0.9 M36.00,205.07 h-0.9 M71.40,240.20 v1.6 M36.00,204.25 h-1.6 M76.73,240.20 v0.9 M36.00,198.84 h-0.9 M79.85,240.20 v0.9 M36.00,195.67 h-0.9 M82.06,240.20 v0.9 M36.00,193.43 h-0.9 M83.77,240.20 v0.9 M36.00,191.69 h-0.9 M85.17,240.20 v0.9 M36.00,190.26 h-0.9 M86.36,240.20 v0.9 M36.00,189.06 h-0.9 M87.38,240.20 v0.9 M36.00,188.02 h-0.9 M88.29,240.20 v0.9 M36.00,187.10 h-0.9 M89.10,240.20 v1.6 M36.00,186.28 h-1.6 M94.43,240.20 v0.9 M36.00,180.86 h-0.9 M97.55,240.20 v0.9 M36.00,177.70 h-0.9 M99.76,240.20 v0.9 M36.00,175.45 h-0.9 M101.47,240.20 v0.9 M36.00,173.71 h-0.9 M102.87,240.20 v0.9 M36.00,172.29 h-0.9 M104.06,240.20 v0.9 M36.00,171.08 h-0.9 M105.08,240.20 v0.9 M36.00,170.04 h-0.9 M105.99,240.20 v0.9 M36.00,169.12 h-0.9" stroke="#666" stroke-width="0.5"/>
<text x="65.40" y="156.40" font-size="13.0" font-weight="bold" text-anchor="middle" fill="#000" >w/o cytokines</text>
<text x="33.40" y="171.70" font-size="7.4" font-weight="bold" class="sb" text-anchor="end">10<tspan font-size="4.7" dy="-4.0">4</tspan></text>
<text x="33.40" y="207.25" font-size="7.4" font-weight="bold" class="sb" text-anchor="end">10<tspan font-size="4.7" dy="-4.0">2</tspan></text>
<text x="33.40" y="243.00" font-size="7.4" font-weight="bold" class="sb" text-anchor="end">10<tspan font-size="4.7" dy="-4.0">0</tspan></text>
<text x="36.50" y="252.40" font-size="7.4" font-weight="bold" class="sb" text-anchor="middle">10<tspan font-size="4.7" dy="-4.0">0</tspan></text>
<text x="71.90" y="252.40" font-size="7.4" font-weight="bold" class="sb" text-anchor="middle">10<tspan font-size="4.7" dy="-4.0">2</tspan></text>
<text x="107.30" y="252.40" font-size="7.4" font-weight="bold" class="sb" text-anchor="middle">10<tspan font-size="4.7" dy="-4.0">4</tspan></text>
<text x="105.40" y="176.70" font-size="7.7" font-weight="bold" text-anchor="end" fill="#000" class="sb">70%</text>
<text x="37.60" y="237.60" font-size="7.7" font-weight="bold" text-anchor="start" fill="#000" class="sb">7%</text>
<text x="105.20" y="237.70" font-size="7.7" font-weight="bold" text-anchor="end" fill="#000" class="sb">21%</text>
<path d="M159.9,237.3 159.2,237.3 158.4,237.3 157.7,237.3 156.9,237.2 156.2,237.1 155.4,237.0 154.7,236.8 153.9,236.7 153.2,236.5 152.6,236.3 151.9,236.1 151.2,235.8 150.7,235.6 149.9,235.2 149.3,234.8 148.7,234.4 148.2,234.0 147.7,233.6 147.2,233.1 146.7,232.6 146.2,232.1 145.8,231.6 145.4,231.1 145.0,230.3 144.7,229.7 144.3,229.1 144.0,228.3 143.8,227.6 143.5,226.8 143.4,226.2 143.3,225.6 143.2,224.9 143.1,224.1 143.0,223.3 143.0,222.6 143.0,221.8 143.0,221.1 143.1,220.3 143.2,219.6 143.3,218.8 143.5,218.1 143.7,217.5 143.9,216.8 144.2,216.1 144.4,215.6 144.8,214.8 145.2,214.1 145.5,213.6 145.9,212.8 146.3,212.1 146.7,211.4 147.0,210.8 147.4,210.1 147.8,209.3 148.2,208.8 148.6,208.3 149.2,207.8 149.7,207.4 150.1,207.1 150.7,206.7 151.3,206.3 151.9,206.0 152.7,205.6 153.3,205.3 153.8,205.1 154.4,204.8 155.0,204.6 155.7,204.3 156.4,204.1 157.1,203.8 157.9,203.6 158.7,203.3 159.4,203.1 160.2,202.9 160.9,202.7 161.7,202.6 162.4,202.4 163.2,202.3 163.9,202.2 164.7,202.1 165.4,202.1 166.2,202.0 166.9,202.0 167.7,202.1 168.4,202.2 169.1,202.6 169.4,203.1 169.2,203.8 168.8,204.3 168.4,204.8 167.9,205.3 167.5,205.8 167.2,206.6 167.3,207.3 167.6,207.8 168.2,208.3 168.7,208.6 169.4,209.1 169.9,209.3 170.7,209.7 171.4,210.0 172.2,210.3 172.9,210.4 173.7,210.5 174.4,210.4 175.2,210.1 175.7,209.7 176.1,209.3 176.4,208.6 176.4,207.8 176.2,207.1 175.9,206.3 175.7,205.6 175.4,205.1 175.2,204.3 174.9,203.6 174.7,202.8 174.6,202.1 174.7,201.4 174.8,200.8 175.2,200.2 175.5,199.6 175.9,198.9 176.2,198.3 176.6,197.6 176.9,197.0 177.2,196.4 177.4,195.6 177.5,194.8 177.6,194.1 177.7,193.3 177.8,192.6 177.8,191.8 177.8,191.1 177.9,190.3 178.0,189.6 178.0,188.8 178.1,188.1 178.2,187.3 178.4,186.6 178.5,185.8 178.7,185.1 178.9,184.4 179.1,183.8 179.3,183.1 179.6,182.3 179.9,181.6 180.2,181.0 180.5,180.3 180.9,179.6 181.2,179.1 181.6,178.6 181.9,178.1 182.3,177.6 182.7,177.1 183.2,176.6 183.7,176.1 184.3,175.6 184.9,175.1 185.4,174.7 185.9,174.3 186.4,173.9 186.7,173.3 186.2,172.9 185.4,172.6 184.7,172.4 183.9,172.2 183.2,172.0 182.5,171.8 181.7,171.6 180.9,171.4 180.2,171.1 179.6,170.8 179.0,170.3 179.2,169.7 179.8,169.3 180.4,169.1 181.2,168.9 181.9,168.7 182.7,168.6 183.4,168.5 184.2,168.4 184.9,168.4 185.7,168.3 186.4,168.3 187.2,168.3 187.9,168.3 188.7,168.4 189.4,168.4 190.2,168.5 190.9,168.6 191.7,168.8 192.4,169.0 193.2,169.2 193.7,169.6 194.2,170.0 193.9,170.7 193.4,171.1 192.7,171.5 191.9,171.9 191.2,172.3 190.6,172.6 189.9,173.1 190.1,173.8 190.7,174.3 191.2,174.7 191.7,175.1 192.2,175.5 192.7,175.9 193.2,176.4 193.6,176.8 194.2,177.3 194.7,177.7 195.2,178.2 195.7,178.6 196.2,179.2 196.7,179.8 197.0,180.3 197.4,180.9 197.8,181.6 198.2,182.2 198.4,182.8 198.7,183.6 199.0,184.3 199.3,185.1 199.5,185.8 199.8,186.6 200.0,187.3 200.1,188.1 200.3,188.8 200.4,189.6 200.6,190.3 200.7,191.1 200.8,191.8 200.9,192.6 201.0,193.3 201.0,194.1 201.1,194.8 201.1,195.6 201.2,196.2 201.2,196.8 201.2,197.6 201.2,198.3 201.2,199.1 201.1,199.8 201.0,200.6 200.9,201.3 200.7,202.1 200.5,202.8 200.3,203.6 200.1,204.3 199.8,205.1 199.5,205.8 199.2,206.6 198.9,207.3 198.7,208.1 198.4,208.8 198.3,209.6 198.2,210.3 198.2,211.1 198.3,211.8 198.4,212.6 198.5,213.3 198.7,214.1 198.9,214.8 199.0,215.6 199.2,216.3 199.4,217.1 199.5,217.8 199.6,218.6 199.8,219.3 199.9,220.1 199.9,220.8 200.0,221.6 200.0,222.3 200.1,223.1 200.1,223.8 200.0,224.6 199.8,225.3 199.5,226.1 199.2,226.6 198.7,227.3 198.2,227.7 197.7,228.2 197.2,228.5 196.6,228.8 195.9,229.2 195.2,229.5 194.4,229.7 193.7,229.9 192.9,230.0 192.2,230.1 191.4,230.1 190.7,230.2 189.9,230.1 189.2,230.1 188.4,230.1 187.7,230.1 187.0,230.1 186.4,230.0 185.7,230.0 184.9,229.9 184.2,229.8 183.4,229.8 182.7,229.7 181.9,229.6 181.2,229.5 180.4,229.4 179.7,229.3 178.9,229.2 178.2,229.2 177.4,229.1 176.7,229.1 175.9,229.0 175.2,229.1 174.4,229.1 173.7,229.3 172.9,229.6 172.4,229.8 171.7,230.2 171.2,230.5 170.7,230.9 170.2,231.3 169.7,231.8 169.2,232.2 168.7,232.7 168.2,233.2 167.7,233.6 167.2,234.1 166.7,234.5 166.2,234.9 165.7,235.2 165.2,235.6 164.4,236.0 163.8,236.3 163.3,236.6 162.7,236.8 161.9,237.0 161.2,237.2 160.4,237.3 159.9,237.3Z M189.4,171.1 188.7,171.2 187.9,171.2 187.2,171.3 186.4,171.3 185.7,171.2 184.9,171.2 184.2,171.1 183.4,171.0 182.7,170.8 182.0,170.6 181.4,170.1 181.9,169.6 182.7,169.4 183.4,169.2 184.2,169.1 184.9,169.0 185.7,169.0 186.4,169.0 187.2,169.0 187.9,169.0 188.7,169.1 189.4,169.2 190.2,169.3 190.8,169.6 191.4,170.1 191.0,170.6 190.4,170.8 189.7,171.0 189.4,171.1Z M160.2,235.3 159.4,235.3 158.7,235.3 157.9,235.3 157.2,235.2 156.4,235.1 155.8,235.1 155.2,234.9 154.5,234.8 153.7,234.6 152.9,234.4 152.2,234.1 151.4,233.9 150.7,233.6 150.2,233.2 149.4,232.8 148.9,232.4 148.4,232.0 147.9,231.6 147.5,231.1 147.1,230.6 146.7,230.1 146.2,229.3 145.9,228.6 145.7,228.1 145.4,227.4 145.2,226.8 145.0,226.1 144.9,225.3 144.7,224.6 144.7,223.8 144.7,223.2 144.6,222.6 144.7,221.8 144.7,221.1 144.8,220.3 144.9,219.6 145.1,218.8 145.3,218.1 145.6,217.3 145.9,216.7 146.3,216.1 146.7,215.4 147.0,214.8 147.4,214.3 147.8,213.8 148.2,213.3 148.7,212.8 149.1,212.3 149.6,211.8 150.1,211.3 150.5,210.8 150.8,210.3 151.1,209.6 151.3,208.8 151.6,208.1 152.0,207.6 152.5,207.1 153.2,206.6 153.9,206.1 154.4,205.8 155.2,205.4 155.9,205.1 156.7,204.8 157.3,204.6 157.9,204.4 158.7,204.1 159.4,203.9 160.2,203.7 160.8,203.6 161.7,203.4 162.3,203.3 162.9,203.2 163.7,203.2 164.4,203.2 165.2,203.4 165.7,203.7 165.5,204.6 165.1,205.1 164.5,205.6 163.9,206.1 163.4,206.5 162.9,207.0 162.6,207.6 162.9,208.3 163.4,208.7 164.0,209.1 164.7,209.4 165.4,209.8 165.9,210.1 166.6,210.6 167.2,210.9 167.7,211.3 168.2,211.7 168.6,212.1 169.2,212.5 169.7,212.9 170.2,213.4 170.7,213.9 171.1,214.3 171.7,214.8 172.2,215.2 172.7,215.6 173.4,216.0 174.2,216.3 174.9,216.3 175.7,216.1 176.4,215.8 176.9,215.5 177.7,215.1 178.4,214.6 178.9,214.2 179.4,213.9 179.9,213.5 180.4,213.2 180.9,212.8 181.4,212.4 181.9,212.1 182.4,211.7 182.9,211.4 183.4,211.0 183.9,210.6 184.4,210.1 184.9,209.6 185.2,209.1 185.3,208.3 184.9,207.6 184.4,207.2 183.7,206.9 183.0,206.8 182.2,206.8 181.4,206.7 180.7,206.7 179.9,206.5 179.2,206.2 178.6,205.8 178.0,205.3 177.7,204.8 177.4,204.3 177.1,203.6 177.0,202.8 177.0,202.1 177.2,201.3 177.6,200.6 177.9,200.1 178.3,199.6 178.8,199.1 179.1,198.6 179.6,197.8 179.9,197.2 180.1,196.6 180.2,195.8 180.3,195.1 180.4,194.3 180.4,193.6 180.4,192.8 180.4,192.1 180.4,191.3 180.5,190.6 180.5,189.8 180.5,189.1 180.6,188.3 180.7,187.6 180.8,186.8 181.0,186.1 181.2,185.3 181.4,184.6 181.6,183.8 181.9,183.1 182.1,182.6 182.5,181.8 182.9,181.1 183.3,180.6 183.7,180.1 184.1,179.6 184.6,179.1 185.2,178.6 185.7,178.3 186.4,177.9 187.2,177.6 187.9,177.4 188.7,177.3 189.4,177.5 190.2,177.8 190.7,178.1 191.4,178.5 191.9,178.9 192.4,179.3 192.9,179.7 193.4,180.2 193.9,180.6 194.4,181.0 194.9,181.4 195.4,181.8 195.9,182.3 196.3,182.8 196.7,183.3 197.1,183.8 197.4,184.4 197.7,185.1 198.1,185.8 198.4,186.6 198.7,187.3 198.9,188.1 199.1,188.8 199.3,189.6 199.4,190.3 199.6,191.1 199.7,191.8 199.8,192.6 199.9,193.3 200.0,194.1 200.0,194.8 200.1,195.6 200.1,196.3 200.2,197.0 200.2,197.8 200.1,198.6 200.1,199.3 200.0,200.1 199.8,200.8 199.7,201.5 199.5,202.1 199.2,202.8 198.9,203.5 198.6,204.1 198.2,204.8 197.7,205.6 197.3,206.1 196.9,206.5 196.5,207.1 196.0,207.6 195.6,208.1 195.2,208.6 194.9,209.3 194.8,210.1 195.0,210.8 195.2,211.6 195.5,212.3 195.9,213.1 196.2,213.7 196.4,214.3 196.7,214.9 196.9,215.6 197.1,216.3 197.4,217.1 197.6,217.8 197.8,218.6 197.9,219.3 198.1,220.1 198.2,220.8 198.3,221.6 198.3,222.3 198.4,223.1 198.4,223.8 198.3,224.6 198.2,225.1 197.9,225.7 197.5,226.3 197.1,226.8 196.5,227.3 195.9,227.7 195.3,228.1 194.7,228.3 194.2,228.5 193.4,228.7 192.7,228.9 191.9,229.0 191.2,229.0 190.4,229.0 189.7,229.0 188.9,229.0 188.2,228.9 187.4,228.9 186.7,228.8 185.9,228.8 185.2,228.7 184.4,228.6 183.7,228.5 182.9,228.4 182.2,228.2 181.4,228.1 180.7,228.0 179.9,227.8 179.2,227.6 178.4,227.5 177.7,227.3 176.9,227.1 176.2,226.9 175.4,226.8 174.7,226.7 173.9,226.7 173.2,226.9 172.6,227.1 172.0,227.3 171.4,227.7 170.9,228.0 170.4,228.4 169.9,228.9 169.4,229.4 168.9,229.9 168.4,230.4 167.9,230.9 167.4,231.4 166.9,231.9 166.4,232.4 165.9,232.8 165.4,233.2 164.9,233.6 164.4,233.9 163.7,234.3 162.9,234.7 162.2,234.9 161.4,235.1 160.7,235.3 160.2,235.3Z M187.9,170.3 187.2,170.5 186.4,170.5 185.7,170.5 184.9,170.4 184.2,170.2 184.7,169.7 185.4,169.6 186.2,169.6 186.9,169.6 187.7,169.7 188.4,170.0 187.9,170.3Z M193.7,205.1 192.9,205.1 192.2,205.1 191.4,205.0 190.7,204.8 189.9,204.6 189.2,204.3 188.6,204.1 187.9,203.7 187.2,203.3 186.4,202.9 185.9,202.6 185.2,202.1 184.4,201.6 183.9,201.2 183.4,200.6 183.3,199.8 183.2,199.1 183.2,198.3 183.2,197.6 183.2,196.8 183.3,196.1 183.3,195.3 183.2,194.6 183.2,193.8 183.2,193.1 183.2,192.3 183.2,191.6 183.1,190.8 183.1,190.1 183.1,189.3 183.1,188.6 183.2,187.8 183.3,187.1 183.4,186.3 183.6,185.6 183.8,184.8 184.1,184.1 184.5,183.3 184.9,182.7 185.4,182.1 185.9,181.6 186.4,181.2 187.1,180.8 187.7,180.6 188.4,180.5 189.2,180.6 189.9,180.9 190.4,181.3 190.9,181.7 191.4,182.1 191.9,182.6 192.4,183.0 192.9,183.4 193.4,183.8 193.9,184.2 194.5,184.6 195.2,185.0 195.7,185.4 196.1,185.8 196.5,186.3 196.8,186.8 197.2,187.4 197.5,188.1 197.8,188.8 198.0,189.6 198.3,190.3 198.4,190.9 198.6,191.6 198.7,192.3 198.8,193.1 198.9,193.7 199.0,194.3 199.0,195.1 199.1,195.8 199.1,196.6 199.2,197.3 199.2,198.0 199.1,198.8 199.0,199.6 198.8,200.3 198.6,201.1 198.3,201.8 197.9,202.5 197.5,203.1 197.2,203.5 196.7,204.0 196.2,204.4 195.4,204.8 194.7,204.9 193.9,205.0 193.7,205.1Z M180.4,204.8 179.7,204.7 178.9,204.3 178.5,203.8 178.3,203.1 178.4,202.3 178.8,201.6 179.4,201.1 180.1,200.8 180.9,200.7 181.7,200.8 182.3,201.1 182.7,201.6 182.8,202.3 182.6,203.1 182.2,203.8 181.7,204.3 181.2,204.6 180.5,204.8 180.4,204.8Z M157.7,207.3 156.9,207.4 156.2,207.4 155.4,207.2 155.5,206.6 156.0,206.1 156.7,205.7 157.4,205.3 158.1,205.1 158.7,204.8 159.4,204.6 160.2,204.4 160.8,204.3 161.7,204.2 162.4,204.2 163.0,204.6 162.7,205.2 162.2,205.6 161.4,206.0 160.8,206.3 160.2,206.6 159.7,206.8 158.9,207.0 158.2,207.2 157.7,207.3Z M160.2,233.3 159.4,233.3 158.7,233.3 157.9,233.3 157.2,233.2 156.4,233.1 155.7,233.0 154.9,232.8 154.2,232.7 153.4,232.5 152.7,232.3 152.2,232.1 151.4,231.8 150.8,231.6 150.2,231.2 149.7,230.8 149.2,230.4 148.7,229.9 148.2,229.3 147.8,228.8 147.4,228.2 147.1,227.6 146.8,226.8 146.6,226.1 146.4,225.3 146.3,224.6 146.3,223.8 146.3,223.1 146.3,222.3 146.4,221.6 146.5,220.8 146.6,220.1 146.8,219.3 147.1,218.6 147.4,217.8 147.8,217.1 148.2,216.5 148.6,215.8 149.0,215.3 149.5,214.8 150.0,214.3 150.6,213.8 151.2,213.3 151.7,213.0 152.3,212.6 152.9,212.2 153.7,211.8 154.2,211.6 154.8,211.3 155.6,211.1 156.2,210.9 156.9,210.7 157.7,210.6 158.4,210.5 159.2,210.4 159.9,210.4 160.7,210.5 161.3,210.6 162.2,210.7 162.9,211.0 163.7,211.2 164.3,211.6 164.9,211.9 165.5,212.3 166.2,212.8 166.7,213.2 167.2,213.7 167.7,214.3 168.1,214.8 168.4,215.3 168.9,216.0 169.2,216.6 169.6,217.3 169.9,218.1 170.1,218.8 170.3,219.6 170.4,220.3 170.5,221.1 170.5,221.8 170.4,222.6 170.3,223.3 170.2,224.1 169.9,224.8 169.7,225.4 169.3,226.1 168.9,226.6 168.5,227.3 168.1,227.8 167.7,228.3 167.3,228.8 166.9,229.3 166.5,229.8 166.0,230.3 165.5,230.8 164.9,231.3 164.4,231.7 163.9,232.0 163.2,232.5 162.4,232.8 161.7,233.1 160.9,233.2 160.3,233.3 160.2,233.3Z M191.7,227.8 190.9,227.8 190.2,227.8 189.4,227.8 188.7,227.8 187.9,227.7 187.2,227.7 186.4,227.6 185.7,227.5 184.9,227.4 184.2,227.2 183.4,227.1 182.7,226.9 181.9,226.6 181.2,226.4 180.4,226.1 179.8,225.8 179.2,225.4 178.7,225.0 178.2,224.3 178.1,223.6 178.2,222.8 178.3,222.1 178.6,221.3 178.9,220.6 179.2,220.1 179.7,219.4 180.1,218.8 180.5,218.3 181.0,217.8 181.6,217.3 182.2,216.8 182.7,216.4 183.2,216.1 183.9,215.6 184.5,215.3 185.2,215.0 185.9,214.7 186.7,214.4 187.4,214.2 188.2,214.0 188.9,213.8 189.7,213.7 190.4,213.7 191.2,213.6 191.9,213.8 192.5,214.1 193.2,214.5 193.7,214.9 194.2,215.5 194.6,216.1 194.9,216.6 195.3,217.3 195.6,218.1 195.9,218.8 196.1,219.6 196.3,220.3 196.4,221.1 196.5,221.8 196.6,222.6 196.7,223.3 196.7,224.1 196.5,224.8 196.2,225.6 195.8,226.1 195.2,226.6 194.7,226.9 193.9,227.3 193.2,227.5 192.4,227.7 191.7,227.8Z M194.9,202.8 194.2,202.9 193.4,202.8 192.7,202.8 191.9,202.6 191.2,202.4 190.4,202.2 189.7,201.8 188.9,201.4 188.4,201.0 187.9,200.6 187.4,200.1 187.1,199.6 186.7,198.8 186.4,198.1 186.3,197.3 186.3,196.6 186.2,195.8 186.2,195.1 186.2,194.3 186.2,193.6 186.2,192.8 186.2,192.1 186.2,191.3 186.1,190.6 186.1,189.8 186.0,189.1 185.9,188.3 185.9,187.6 185.9,186.8 186.0,186.1 186.3,185.3 186.7,184.6 187.2,184.1 187.9,183.7 188.7,183.7 189.2,184.1 189.7,184.5 190.1,185.1 190.6,185.6 191.0,186.1 191.6,186.6 192.2,186.9 192.9,187.3 193.6,187.6 194.2,187.8 194.9,188.1 195.7,188.5 196.2,189.0 196.5,189.6 196.9,190.3 197.2,191.0 197.4,191.6 197.6,192.3 197.7,193.1 197.9,193.8 198.0,194.6 198.1,195.3 198.1,196.1 198.2,196.8 198.2,197.6 198.2,198.2 198.0,199.1 197.9,199.8 197.6,200.6 197.2,201.3 196.8,201.8 196.2,202.3 195.7,202.6 195.0,202.8 194.9,202.8Z M180.4,203.6 179.7,203.6 179.3,203.1 179.7,202.4 180.4,202.3 180.8,202.8 180.7,203.4 180.4,203.6Z M159.4,205.8 158.7,205.9 159.2,205.4 159.9,205.2 159.7,205.8 159.4,205.8Z M159.9,231.3 159.2,231.3 158.4,231.3 157.7,231.2 156.9,231.1 156.2,231.0 155.4,230.8 154.7,230.7 153.9,230.5 153.2,230.3 152.4,230.1 151.7,229.9 151.0,229.6 150.4,229.2 149.9,228.9 149.4,228.4 148.9,227.8 148.5,227.1 148.2,226.3 148.0,225.6 147.9,224.8 147.8,224.1 147.8,223.3 147.9,222.6 148.0,221.8 148.2,221.1 148.4,220.3 148.6,219.6 148.9,218.9 149.2,218.3 149.7,217.6 150.0,217.1 150.4,216.6 150.9,216.1 151.4,215.6 151.9,215.1 152.4,214.7 152.9,214.4 153.5,214.1 154.2,213.7 154.9,213.3 155.7,213.1 156.4,212.8 157.2,212.6 157.9,212.5 158.7,212.4 159.4,212.3 160.2,212.3 160.9,212.3 161.7,212.5 162.4,212.7 163.2,213.0 163.7,213.3 164.4,213.7 164.9,214.1 165.4,214.6 165.8,215.1 166.2,215.6 166.6,216.1 166.9,216.6 167.2,217.3 167.5,218.1 167.7,218.8 167.9,219.6 167.9,220.3 167.9,221.1 167.9,221.8 167.8,222.6 167.7,223.3 167.6,224.1 167.4,224.7 167.2,225.3 166.9,225.9 166.6,226.6 166.2,227.2 165.7,227.8 165.3,228.3 164.9,228.8 164.4,229.3 163.9,229.7 163.4,230.1 162.7,230.6 161.9,230.9 161.2,231.1 160.4,231.3 159.9,231.3Z M192.2,226.6 191.4,226.7 190.7,226.7 189.9,226.7 189.2,226.6 188.4,226.6 187.7,226.5 186.9,226.4 186.2,226.2 185.4,226.1 184.7,225.8 184.0,225.6 183.4,225.2 182.9,224.9 182.4,224.3 182.4,223.6 182.5,222.8 182.7,222.1 183.1,221.3 183.4,220.7 183.9,220.1 184.4,219.6 184.9,219.1 185.4,218.8 186.1,218.3 186.9,217.9 187.7,217.6 188.4,217.4 189.2,217.2 189.9,217.1 190.7,217.1 191.4,217.1 192.2,217.4 192.7,217.8 193.2,218.3 193.6,218.8 194.0,219.6 194.4,220.3 194.6,221.1 194.8,221.8 194.9,222.6 195.0,223.3 195.0,224.1 194.8,224.8 194.4,225.4 193.9,225.8 193.4,226.1 192.7,226.4 192.2,226.6Z M195.2,201.1 194.4,201.1 193.7,201.1 192.9,200.9 192.2,200.7 191.4,200.4 190.8,200.1 190.2,199.6 189.7,199.1 189.4,198.5 189.2,197.8 189.1,197.1 189.1,196.3 189.2,195.6 189.3,194.8 189.5,194.1 189.8,193.3 190.2,192.6 190.6,192.1 191.2,191.6 191.8,191.3 192.4,191.1 193.2,191.0 193.9,191.0 194.7,191.0 195.4,191.3 195.9,191.8 196.3,192.6 196.6,193.3 196.8,194.1 197.0,194.8 197.1,195.6 197.2,196.3 197.2,197.1 197.2,197.8 197.1,198.6 196.9,199.3 196.7,199.9 196.2,200.5 195.7,200.9 195.2,201.1Z M161.2,229.1 160.4,229.2 159.7,229.2 158.9,229.2 158.2,229.1 157.5,229.1 156.9,228.9 156.2,228.7 155.4,228.6 154.7,228.3 153.9,228.2 153.3,228.1 152.7,227.9 151.9,227.8 151.2,227.6 150.4,227.1 149.9,226.6 149.5,225.8 149.3,225.1 149.3,224.3 149.4,223.6 149.5,222.8 149.7,222.1 150.0,221.3 150.3,220.6 150.7,219.8 151.1,219.1 151.4,218.5 151.9,217.8 152.3,217.3 152.8,216.8 153.4,216.3 153.9,215.9 154.4,215.6 155.2,215.1 155.9,214.8 156.5,214.6 157.2,214.4 157.9,214.2 158.7,214.1 159.4,214.0 160.2,214.0 160.9,214.0 161.7,214.2 162.4,214.5 163.0,214.8 163.7,215.3 164.2,215.7 164.7,216.3 165.0,216.8 165.4,217.5 165.6,218.1 165.9,218.8 166.0,219.6 166.1,220.3 166.1,221.1 166.1,221.8 166.0,222.6 165.8,223.3 165.7,224.0 165.5,224.6 165.2,225.3 164.7,226.1 164.4,226.6 164.0,227.1 163.6,227.6 163.0,228.1 162.4,228.5 161.8,228.8 161.2,229.1 161.2,229.1Z M192.2,225.3 191.4,225.5 190.7,225.5 189.9,225.5 189.2,225.4 188.4,225.3 187.7,225.1 186.9,224.8 186.4,224.5 186.1,223.8 186.3,223.1 186.6,222.3 187.0,221.8 187.4,221.4 187.9,221.0 188.7,220.6 189.4,220.3 190.2,220.2 190.9,220.1 191.7,220.3 192.2,220.6 192.6,221.3 192.9,221.9 193.1,222.6 193.2,223.3 193.3,224.1 192.9,224.8 192.4,225.2 192.2,225.3Z M195.4,199.4 194.7,199.5 193.9,199.4 193.2,199.2 192.5,198.8 192.0,198.3 191.7,197.6 191.8,196.8 191.9,196.2 192.1,195.6 192.7,194.8 193.2,194.4 193.8,194.1 194.4,193.9 195.2,193.9 195.7,194.5 195.9,195.1 196.1,195.8 196.2,196.6 196.3,197.3 196.2,198.1 196.0,198.8 195.6,199.3 195.4,199.4Z M160.7,227.1 159.9,227.2 159.2,227.1 158.4,227.0 157.7,226.8 156.9,226.6 156.2,226.3 155.7,226.0 154.9,225.6 154.2,225.2 153.5,224.8 152.9,224.6 152.2,224.7 151.7,225.2 150.9,225.3 150.8,224.6 151.3,224.1 151.9,223.8 152.4,223.1 152.6,222.3 152.7,221.6 152.9,220.9 153.1,220.3 153.4,219.6 153.7,219.0 154.1,218.3 154.5,217.8 155.1,217.3 155.7,216.9 156.2,216.6 156.9,216.2 157.7,215.9 158.4,215.7 159.2,215.6 159.9,215.6 160.7,215.6 161.4,215.8 161.9,216.1 162.7,216.5 163.2,217.0 163.6,217.6 164.0,218.3 164.3,219.1 164.5,219.8 164.5,220.6 164.5,221.3 164.4,222.0 164.2,222.8 164.0,223.6 163.7,224.3 163.4,224.9 162.9,225.6 162.5,226.1 161.9,226.5 161.2,226.9 160.7,227.1Z M191.2,224.4 190.4,224.3 189.8,224.1 190.1,223.3 190.7,223.1 191.4,223.3 191.6,224.1 191.2,224.4Z M195.2,198.0 194.4,197.9 194.1,197.3 194.7,196.6 195.2,196.8 195.4,197.6 195.2,198.0Z M160.9,224.8 160.2,225.0 159.4,225.0 158.7,224.8 157.9,224.6 157.4,224.2 156.9,223.9 156.4,223.3 156.0,222.8 155.7,222.1 155.6,221.3 155.5,220.6 155.7,219.9 155.9,219.3 156.2,218.8 156.7,218.3 157.4,217.8 158.0,217.6 158.7,217.3 159.4,217.2 160.2,217.2 160.9,217.3 161.4,217.6 161.9,217.9 162.4,218.5 162.7,219.1 162.9,219.8 163.0,220.6 163.0,221.3 162.8,222.1 162.7,222.7 162.4,223.2 162.1,223.8 161.7,224.3 161.2,224.7 160.9,224.8Z M160.4,222.8 159.7,222.9 158.9,222.6 158.4,222.2 157.9,221.6 157.7,220.8 157.8,220.1 158.2,219.5 158.7,219.1 159.4,218.8 160.2,218.7 160.9,219.0 161.3,219.6 161.6,220.3 161.5,221.1 161.3,221.8 160.9,222.5 160.4,222.8Z" fill="none" stroke="#787878" stroke-width="0.6" stroke-linejoin="round"/>
<path d="M171.40,168.30 V239.80 M142.90,208.30 H213.70" stroke="#707070" stroke-width="0.9"/>
<path d="M142.90,168.30 H213.70 V239.80" fill="none" stroke="#666" stroke-width="0.9"/>
<path d="M142.90,168.30 V239.80 H213.70" fill="none" stroke="#444" stroke-width="1.0"/>
<path d="M142.90,239.80 v1.6 M142.90,239.80 h-1.6 M148.23,239.80 v0.9 M142.90,234.42 h-0.9 M151.35,239.80 v0.9 M142.90,231.27 h-0.9 M153.56,239.80 v0.9 M142.90,229.04 h-0.9 M155.27,239.80 v0.9 M142.90,227.31 h-0.9 M156.67,239.80 v0.9 M142.90,225.89 h-0.9 M157.86,239.80 v0.9 M142.90,224.69 h-0.9 M158.88,239.80 v0.9 M142.90,223.66 h-0.9 M159.79,239.80 v0.9 M142.90,222.74 h-0.9 M160.60,239.80 v1.6 M142.90,221.93 h-1.6 M165.93,239.80 v0.9 M142.90,216.54 h-0.9 M169.05,239.80 v0.9 M142.90,213.40 h-0.9 M171.26,239.80 v0.9 M142.90,211.16 h-0.9 M172.97,239.80 v0.9 M142.90,209.43 h-0.9 M174.37,239.80 v0.9 M142.90,208.02 h-0.9 M175.56,239.80 v0.9 M142.90,206.82 h-0.9 M176.58,239.80 v0.9 M142.90,205.78 h-0.9 M177.49,239.80 v0.9 M142.90,204.87 h-0.9 M178.30,239.80 v1.6 M142.90,204.05 h-1.6 M183.63,239.80 v0.9 M142.90,198.67 h-0.9 M186.75,239.80 v0.9 M142.90,195.52 h-0.9 M188.96,239.80 v0.9 M142.90,193.29 h-0.9 M190.67,239.80 v0.9 M142.90,191.56 h-0.9 M192.07,239.80 v0.9 M142.90,190.14 h-0.9 M193.26,239.80 v0.9 M142.90,188.94 h-0.9 M194.28,239.80 v0.9 M142.90,187.91 h-0.9 M195.19,239.80 v0.9 M142.90,186.99 h-0.9 M196.00,239.80 v1.6 M142.90,186.18 h-1.6 M201.33,239.80 v0.9 M142.90,180.79 h-0.9 M204.45,239.80 v0.9 M142.90,177.65 h-0.9 M206.66,239.80 v0.9 M142.90,175.41 h-0.9 M208.37,239.80 v0.9 M142.90,173.68 h-0.9 M209.77,239.80 v0.9 M142.90,172.27 h-0.9 M210.96,239.80 v0.9 M142.90,171.07 h-0.9 M211.98,239.80 v0.9 M142.90,170.03 h-0.9 M212.89,239.80 v0.9 M142.90,169.12 h-0.9" stroke="#666" stroke-width="0.5"/>
<text x="178.00" y="156.40" font-size="13.0" font-weight="bold" text-anchor="middle" fill="#000" >BDNF</text>
<text x="140.30" y="171.70" font-size="7.4" font-weight="bold" class="sb" text-anchor="end">10<tspan font-size="4.7" dy="-4.0">4</tspan></text>
<text x="140.30" y="207.05" font-size="7.4" font-weight="bold" class="sb" text-anchor="end">10<tspan font-size="4.7" dy="-4.0">2</tspan></text>
<text x="140.30" y="242.60" font-size="7.4" font-weight="bold" class="sb" text-anchor="end">10<tspan font-size="4.7" dy="-4.0">0</tspan></text>
<text x="143.40" y="252.00" font-size="7.4" font-weight="bold" class="sb" text-anchor="middle">10<tspan font-size="4.7" dy="-4.0">0</tspan></text>
<text x="178.80" y="252.00" font-size="7.4" font-weight="bold" class="sb" text-anchor="middle">10<tspan font-size="4.7" dy="-4.0">2</tspan></text>
<text x="214.20" y="252.00" font-size="7.4" font-weight="bold" class="sb" text-anchor="middle">10<tspan font-size="4.7" dy="-4.0">4</tspan></text>
<text x="212.30" y="176.70" font-size="7.7" font-weight="bold" text-anchor="end" fill="#000" class="sb">24%</text>
<text x="144.50" y="237.20" font-size="7.7" font-weight="bold" text-anchor="start" fill="#000" class="sb">59%</text>
<text x="212.10" y="237.30" font-size="7.7" font-weight="bold" text-anchor="end" fill="#000" class="sb">14%</text>
<path d="M250.3,211.0 250.5,210.2 250.6,209.5 250.9,208.8 251.2,208.0 251.9,208.0 252.3,208.6 252.5,209.2 252.8,210.0 253.1,210.7 253.3,211.2 253.8,212.0 254.3,212.3 255.1,212.0 255.6,211.7 256.0,211.2 256.6,210.8 257.1,210.3 257.6,209.9 258.1,209.4 258.6,209.0 259.1,208.6 259.6,208.2 260.1,207.9 260.6,207.5 261.3,207.0 262.1,206.6 262.7,206.2 263.3,205.9 264.1,205.5 264.7,205.2 265.2,205.0 265.8,204.8 266.4,204.5 267.0,204.2 267.6,204.0 268.2,203.8 268.8,203.5 269.4,203.2 270.1,203.0 270.7,202.8 271.3,202.5 271.9,202.2 272.4,202.0 273.0,201.8 273.6,201.5 274.2,201.2 274.8,201.0 275.4,200.8 276.0,200.5 276.6,200.3 277.2,200.0 277.8,199.8 278.4,199.5 279.0,199.2 279.7,199.0 280.3,198.8 281.0,198.5 281.8,198.2 282.6,198.0 283.3,197.8 284.1,197.6 284.8,197.5 285.6,197.3 286.3,197.3 287.1,197.2 287.8,197.2 288.6,197.3 289.3,197.4 290.1,197.5 290.8,197.5 291.6,197.3 292.3,197.1 293.1,196.8 293.8,196.5 294.6,196.1 295.3,195.8 295.8,195.5 296.6,195.1 297.3,194.8 298.0,194.5 298.6,194.3 299.3,194.1 300.1,194.0 300.8,193.9 301.6,193.8 302.3,193.9 303.0,194.0 303.8,194.2 304.6,194.5 305.3,194.9 305.9,195.2 306.5,195.8 307.0,196.2 307.4,196.8 307.8,197.5 308.1,198.0 308.3,198.6 308.5,199.2 308.6,200.0 308.6,200.8 308.6,201.5 308.5,202.2 308.3,202.9 308.1,203.5 307.8,204.2 307.5,204.8 307.1,205.4 306.6,206.0 306.3,206.5 305.8,207.0 305.4,207.5 304.9,208.0 304.5,208.5 304.1,209.0 303.7,209.5 303.3,210.2 302.9,211.0 302.6,211.8 302.4,212.5 302.3,213.2 302.1,214.0 302.0,214.8 302.0,215.5 302.0,216.2 302.1,217.0 302.3,217.7 302.6,218.5 302.8,219.1 303.0,219.8 303.3,220.5 303.4,221.2 303.5,222.0 303.3,222.8 303.1,223.5 302.6,224.2 302.2,224.8 301.6,225.2 301.1,225.6 300.4,226.0 299.8,226.3 299.2,226.5 298.6,226.7 297.8,226.9 297.1,227.0 296.3,227.1 295.6,227.2 294.8,227.2 294.1,227.3 293.3,227.2 292.6,227.2 291.8,227.1 291.1,227.1 290.3,227.0 289.6,226.9 288.8,226.9 288.1,226.9 287.3,226.9 286.6,227.1 285.9,227.2 285.3,227.5 284.6,227.9 284.0,228.2 283.3,228.7 282.8,229.1 282.3,229.5 281.8,229.9 281.3,230.3 280.8,230.7 280.3,231.1 279.8,231.5 279.3,231.8 278.8,232.2 278.3,232.5 277.6,233.0 276.8,233.5 276.1,233.9 275.5,234.2 274.8,234.7 274.2,235.0 273.6,235.3 272.8,235.7 272.3,236.0 271.6,236.3 270.8,236.7 270.1,237.0 269.4,237.2 268.8,237.5 268.1,237.8 267.3,238.0 266.6,238.2 265.8,238.4 265.1,238.6 264.3,238.7 263.6,238.9 262.8,239.0 262.1,239.1 261.3,239.1 260.6,239.1 259.8,239.1 259.1,239.0 258.3,239.0 257.6,238.8 256.8,238.7 256.1,238.5 255.3,238.5 254.6,238.6 254.1,239.1 253.8,239.5 M250.3,214.2 250.4,213.5 250.6,212.9 250.7,212.2 250.9,211.5 251.2,210.8 251.8,210.5 252.2,211.2 252.5,212.0 252.8,212.8 253.0,213.5 253.3,214.1 253.7,214.8 254.3,215.0 255.1,214.5 255.6,214.0 256.0,213.5 256.5,213.0 256.9,212.5 257.4,212.0 257.9,211.5 258.4,211.0 258.9,210.5 259.5,210.0 260.1,209.5 260.6,209.2 261.1,208.8 261.6,208.4 262.2,208.0 262.8,207.7 263.5,207.2 264.1,207.0 264.8,206.6 265.4,206.2 266.1,206.0 266.8,205.6 267.6,205.3 268.1,205.0 268.6,204.8 269.2,204.5 269.8,204.2 270.3,204.0 270.9,203.8 271.4,203.5 272.0,203.2 272.6,203.0 273.1,202.8 273.7,202.5 274.3,202.3 274.9,202.0 275.5,201.8 276.2,201.5 276.8,201.3 277.6,201.0 278.3,200.8 279.1,200.6 279.8,200.4 280.6,200.3 281.3,200.4 281.9,200.8 282.0,201.5 281.6,202.2 281.2,202.8 280.8,203.2 280.3,203.8 279.9,204.2 279.4,204.8 279.0,205.2 278.6,205.8 278.2,206.5 278.2,207.2 278.6,207.8 279.3,208.1 280.1,208.1 280.8,207.9 281.5,207.5 282.1,207.1 282.6,206.6 283.1,206.2 283.6,205.8 284.1,205.4 284.8,205.0 285.6,204.6 286.3,204.3 287.1,204.1 287.8,203.9 288.6,203.8 289.3,203.6 290.1,203.4 290.8,203.3 291.6,203.1 292.3,202.8 293.1,202.6 293.7,202.2 294.3,201.8 294.8,201.3 295.3,200.8 295.6,200.2 296.1,199.6 296.5,199.0 296.8,198.5 297.2,198.0 297.7,197.5 298.3,197.0 298.8,196.6 299.4,196.2 300.0,196.0 300.8,195.8 301.6,195.6 302.3,195.6 303.1,195.7 303.8,195.9 304.6,196.2 305.3,196.8 305.8,197.2 306.2,197.8 306.6,198.3 306.8,198.9 307.0,199.5 307.1,200.2 307.1,201.0 306.9,201.8 306.7,202.5 306.3,203.2 305.8,204.0 305.4,204.5 304.8,205.0 304.3,205.4 303.8,205.8 303.1,206.2 302.4,206.5 301.8,206.8 301.1,207.2 300.6,207.6 300.1,208.1 299.7,208.8 299.4,209.5 299.2,210.2 299.1,211.0 299.0,211.8 298.9,212.5 298.8,213.1 298.7,213.8 298.6,214.5 298.5,215.2 298.5,216.0 298.5,216.8 298.7,217.5 299.1,218.1 299.5,218.8 300.0,219.2 300.4,219.8 300.8,220.2 301.2,221.0 301.4,221.8 301.4,222.5 301.2,223.2 300.9,223.8 300.3,224.2 299.8,224.6 299.1,225.0 298.3,225.2 297.6,225.4 296.8,225.5 296.1,225.6 295.3,225.6 294.6,225.5 293.8,225.4 293.1,225.2 292.3,225.0 291.6,224.8 290.8,224.5 290.2,224.2 289.6,223.9 288.8,223.6 288.1,223.3 287.3,223.1 286.6,223.0 285.8,223.2 285.1,223.5 284.6,223.9 284.1,224.2 283.6,224.8 283.1,225.2 282.6,225.8 282.2,226.2 281.8,226.7 281.3,227.2 280.9,227.8 280.4,228.2 279.9,228.8 279.4,229.2 278.9,229.8 278.3,230.2 277.8,230.7 277.3,231.0 276.8,231.4 276.3,231.7 275.8,232.1 275.1,232.5 274.6,232.9 273.9,233.2 273.3,233.6 272.6,234.0 272.1,234.3 271.3,234.7 270.6,235.0 270.0,235.2 269.4,235.5 268.8,235.7 268.1,236.0 267.4,236.2 266.6,236.5 265.8,236.7 265.1,236.9 264.3,237.0 263.6,237.1 262.8,237.2 262.1,237.2 261.3,237.3 260.6,237.2 259.8,237.2 259.1,237.1 258.3,236.9 257.7,236.8 257.1,236.5 256.3,236.3 255.6,236.0 254.8,235.8 254.1,236.1 253.6,236.8 253.3,237.5 253.1,238.2 252.9,239.0 252.7,239.5 M250.5,239.5 250.3,238.8 250.3,238.6 M303.1,203.8 302.3,204.0 301.6,204.0 300.8,203.8 300.1,203.5 299.6,203.1 299.1,202.5 298.8,201.8 298.7,201.0 298.8,200.2 299.0,199.5 299.3,198.9 299.8,198.3 300.3,197.9 300.9,197.5 301.6,197.3 302.3,197.2 302.9,197.2 303.6,197.4 304.2,197.8 304.8,198.2 305.1,198.8 305.5,199.5 305.6,200.2 305.6,201.0 305.3,201.8 305.1,202.3 304.6,202.9 304.1,203.3 303.3,203.7 303.1,203.8Z M250.3,218.0 250.4,217.2 250.5,216.5 250.6,215.8 250.8,215.0 250.9,214.2 251.2,213.5 251.8,213.2 252.2,214.0 252.4,214.8 252.6,215.5 252.8,216.1 253.0,216.8 253.1,217.5 253.3,218.1 253.5,218.8 253.8,219.3 254.6,219.3 254.9,218.8 255.3,218.2 255.7,217.5 256.1,216.9 256.4,216.2 256.8,215.6 257.2,215.0 257.6,214.4 258.0,213.8 258.4,213.2 258.8,212.8 259.2,212.2 259.7,211.8 260.2,211.2 260.7,210.8 261.3,210.3 261.8,209.9 262.3,209.5 262.8,209.1 263.3,208.8 264.1,208.3 264.6,208.0 265.3,207.6 265.9,207.2 266.6,206.9 267.3,206.5 268.1,206.1 268.8,205.8 269.3,205.5 270.1,205.1 270.8,204.8 271.3,204.5 272.1,204.1 272.8,203.8 273.5,203.5 274.1,203.2 274.8,203.0 275.5,202.8 276.3,202.5 277.1,202.4 277.8,202.5 278.1,203.0 277.8,203.6 277.3,204.2 276.9,204.8 276.4,205.2 275.9,205.8 275.4,206.2 274.9,206.8 274.6,207.2 274.2,208.0 274.2,208.8 274.6,209.2 275.1,209.7 275.6,210.0 276.3,210.5 277.1,211.0 277.8,211.4 278.6,211.9 279.1,212.2 279.8,212.7 280.3,213.1 280.8,213.4 281.3,213.8 281.8,214.2 282.2,214.8 282.4,215.5 282.5,216.2 282.6,217.0 282.5,217.8 282.5,218.5 282.4,219.2 282.3,220.0 282.1,220.8 281.9,221.5 281.6,222.2 281.3,223.0 281.1,223.6 280.7,224.2 280.3,225.0 279.9,225.8 279.5,226.2 279.2,226.8 278.8,227.2 278.3,227.8 277.9,228.2 277.4,228.8 276.8,229.2 276.3,229.7 275.8,230.1 275.3,230.4 274.8,230.8 274.3,231.1 273.7,231.5 273.1,231.9 272.5,232.2 271.8,232.6 271.1,233.0 270.6,233.3 269.8,233.6 269.1,233.9 268.3,234.2 267.6,234.5 266.8,234.7 266.1,234.9 265.3,235.1 264.6,235.2 263.8,235.3 263.1,235.4 262.3,235.4 261.6,235.4 260.8,235.3 260.1,235.2 259.3,235.0 258.6,234.8 257.8,234.5 257.1,234.1 256.5,233.8 255.8,233.2 255.3,232.8 254.8,232.5 254.1,232.4 253.6,233.0 253.3,233.8 253.1,234.5 252.9,235.2 252.8,236.0 252.6,236.8 252.4,237.5 252.2,238.2 251.8,239.0 251.1,238.8 250.9,238.0 250.7,237.2 250.6,236.5 250.4,235.8 250.3,235.0 250.3,234.7 M293.1,216.3 292.3,216.5 291.6,216.5 290.8,216.4 290.1,216.2 289.3,216.0 288.6,215.9 287.8,215.8 287.1,215.7 286.3,215.5 285.6,215.3 284.8,215.1 284.2,214.8 283.6,214.2 283.3,213.6 283.2,213.0 283.2,212.2 283.3,211.5 283.4,210.8 283.6,210.0 284.0,209.2 284.3,208.7 284.7,208.2 285.3,207.8 286.1,207.3 286.8,207.1 287.6,207.1 288.3,207.2 289.1,207.3 289.8,207.4 290.6,207.5 291.3,207.6 292.1,207.7 292.7,207.8 293.3,207.9 294.0,208.2 294.6,208.7 294.9,209.2 295.3,210.0 295.5,210.8 295.6,211.5 295.6,212.2 295.5,213.0 295.3,213.6 295.1,214.2 294.6,215.0 294.2,215.5 293.7,216.0 293.1,216.3Z M298.1,224.0 297.3,224.2 296.6,224.2 295.8,224.2 295.1,224.1 294.3,223.8 293.7,223.5 293.1,223.0 292.7,222.5 292.6,221.8 292.8,221.0 293.2,220.5 293.8,220.1 294.6,219.9 295.3,219.9 296.1,220.0 296.8,220.1 297.4,220.2 298.1,220.5 298.8,220.9 299.3,221.4 299.6,222.0 299.6,222.8 299.1,223.5 298.6,223.8 298.1,224.0Z M302.8,202.1 302.1,202.1 301.4,201.8 301.0,201.2 300.7,200.5 300.9,199.8 301.3,199.2 301.8,198.8 302.6,198.7 303.3,198.9 303.8,199.2 304.2,200.0 304.1,200.8 303.8,201.4 303.3,201.9 302.8,202.1Z M264.1,233.5 263.3,233.6 262.6,233.5 261.9,233.5 261.3,233.4 260.6,233.3 259.8,233.0 259.2,232.8 258.6,232.4 258.1,232.0 257.6,231.6 257.1,231.1 256.6,230.5 256.3,230.0 255.9,229.2 255.6,228.5 255.4,227.8 255.3,227.1 255.2,226.2 255.2,225.5 255.3,224.8 255.4,224.0 255.5,223.2 255.7,222.5 256.0,221.8 256.3,221.0 256.6,220.3 256.8,219.7 257.2,219.0 257.6,218.3 258.0,217.5 258.3,217.0 258.7,216.2 259.2,215.5 259.6,215.0 259.9,214.5 260.3,214.0 260.7,213.5 261.0,213.0 261.4,212.5 261.9,212.0 262.3,211.5 262.8,211.1 263.3,210.6 263.8,210.2 264.3,209.8 264.8,209.4 265.3,209.1 265.8,208.7 266.3,208.4 266.8,208.0 267.6,207.5 268.3,207.1 269.1,206.6 269.6,206.2 270.3,205.9 271.0,205.5 271.6,205.2 272.3,204.8 273.1,204.5 273.8,204.3 274.6,204.1 275.3,204.2 274.9,205.0 274.4,205.5 273.9,206.0 273.3,206.5 272.8,206.9 272.3,207.3 271.8,207.7 271.3,208.2 270.8,208.8 270.6,209.5 271.1,210.2 271.6,210.5 272.3,210.9 273.0,211.2 273.8,211.6 274.5,212.0 275.1,212.4 275.6,212.7 276.1,213.0 276.6,213.5 277.1,213.9 277.6,214.4 278.0,215.0 278.4,215.5 278.8,216.2 279.1,216.8 279.3,217.5 279.5,218.2 279.6,219.0 279.6,219.8 279.6,220.5 279.5,221.2 279.3,222.0 279.1,222.8 278.9,223.5 278.6,224.2 278.2,225.0 277.8,225.6 277.4,226.2 277.0,226.8 276.6,227.2 276.1,227.8 275.6,228.2 275.1,228.7 274.6,229.1 274.1,229.4 273.6,229.8 273.1,230.1 272.4,230.5 271.8,230.9 271.1,231.2 270.6,231.6 269.8,231.9 269.1,232.2 268.4,232.5 267.8,232.7 267.1,232.9 266.3,233.1 265.6,233.3 264.8,233.4 264.2,233.5 264.1,233.5Z M287.1,211.8 286.3,211.8 285.8,211.4 285.6,210.8 285.7,210.0 286.2,209.5 286.8,209.4 287.4,209.8 287.8,210.5 287.7,211.2 287.2,211.8 287.1,211.8Z M251.6,236.3 251.2,235.8 251.0,235.0 250.8,234.2 250.7,233.5 250.6,232.8 250.6,232.0 250.5,231.2 250.4,230.5 250.4,229.8 250.4,229.0 250.3,228.2 250.3,227.5 250.3,226.8 250.3,226.0 250.3,225.2 250.4,224.5 250.4,223.8 250.4,223.0 250.4,222.2 250.5,221.5 250.5,220.8 250.6,220.0 250.7,219.2 250.8,218.5 250.9,217.8 251.0,217.0 251.3,216.2 251.9,216.2 252.1,217.0 252.3,217.8 252.4,218.5 252.5,219.2 252.6,220.0 252.7,220.8 252.8,221.5 252.9,222.2 253.0,223.0 253.0,223.8 253.1,224.5 253.1,225.2 253.2,226.0 253.2,226.8 253.1,227.5 253.1,228.2 253.0,229.0 253.0,229.8 252.9,230.5 252.8,231.2 252.7,232.0 252.6,232.8 252.5,233.5 252.3,234.2 252.2,235.0 251.9,235.8 251.6,236.3Z M297.3,223.1 296.6,223.1 295.8,222.8 295.8,222.1 296.6,221.8 297.3,221.8 297.9,222.2 297.6,223.0 297.3,223.1Z M271.1,206.8 271.3,206.2 272.0,205.8 272.7,205.8 272.1,206.2 271.6,206.6 271.1,206.8Z M265.8,231.5 265.1,231.6 264.3,231.7 263.6,231.7 262.8,231.7 262.1,231.5 261.3,231.3 260.6,231.0 259.8,230.5 259.3,230.1 258.8,229.6 258.4,229.0 258.1,228.3 257.8,227.8 257.6,227.0 257.4,226.2 257.4,225.5 257.4,224.8 257.4,224.0 257.6,223.4 257.7,222.8 257.9,222.0 258.1,221.2 258.4,220.5 258.8,219.8 259.2,219.0 259.6,218.4 260.0,217.8 260.3,217.2 260.7,216.8 261.1,216.2 261.5,215.8 262.0,215.2 262.4,214.8 262.9,214.2 263.5,213.8 264.1,213.3 264.6,213.0 265.3,212.7 266.1,212.4 266.7,212.2 267.6,212.2 268.3,212.2 269.1,212.2 269.8,212.3 270.6,212.5 271.3,212.7 272.1,212.9 272.8,213.2 273.6,213.7 274.1,214.0 274.8,214.5 275.3,215.0 275.8,215.5 276.2,216.0 276.6,216.5 277.0,217.2 277.3,218.0 277.5,218.8 277.6,219.5 277.6,220.2 277.6,221.0 277.5,221.8 277.3,222.5 277.1,223.2 276.8,224.0 276.5,224.5 276.1,225.2 275.7,225.8 275.3,226.2 274.9,226.8 274.4,227.2 273.8,227.7 273.3,228.1 272.8,228.5 272.3,228.8 271.6,229.2 271.1,229.6 270.3,230.0 269.8,230.2 269.2,230.5 268.6,230.8 267.9,231.0 267.3,231.2 266.6,231.4 265.8,231.5Z M251.6,233.2 251.2,232.5 251.1,231.8 251.0,231.0 250.9,230.2 250.8,229.5 250.8,228.8 250.8,228.0 250.7,227.2 250.7,226.5 250.7,225.8 250.8,225.0 250.8,224.2 250.8,223.6 250.8,223.0 250.9,222.2 250.9,221.5 251.0,220.8 251.1,220.0 251.3,219.3 251.9,219.8 252.0,220.5 252.1,221.2 252.2,222.0 252.3,222.8 252.3,223.5 252.4,224.2 252.4,225.0 252.4,225.8 252.4,226.5 252.4,227.2 252.4,228.0 252.3,228.8 252.3,229.5 252.2,230.2 252.1,231.0 252.1,231.7 251.9,232.2 251.7,233.0 251.6,233.2Z M266.1,229.8 265.3,229.9 264.6,229.9 263.8,229.8 263.1,229.7 262.3,229.4 261.6,229.0 261.1,228.6 260.6,228.1 260.2,227.5 259.8,226.8 259.6,226.0 259.5,225.2 259.4,224.5 259.5,223.8 259.6,223.1 259.7,222.2 260.0,221.5 260.3,220.8 260.6,220.2 260.9,219.5 261.3,218.9 261.7,218.2 262.1,217.8 262.5,217.2 263.0,216.8 263.5,216.2 264.1,215.8 264.6,215.4 265.1,215.0 265.8,214.7 266.6,214.4 267.3,214.2 268.1,214.1 268.8,214.1 269.6,214.1 270.3,214.2 271.1,214.4 271.8,214.7 272.4,215.0 273.1,215.4 273.6,215.8 274.1,216.2 274.5,216.8 274.9,217.2 275.3,218.0 275.6,218.6 275.7,219.2 275.9,220.0 275.9,220.8 275.8,221.5 275.7,222.2 275.5,223.0 275.1,223.8 274.8,224.4 274.4,225.0 274.0,225.5 273.6,226.0 273.1,226.4 272.6,226.8 272.1,227.2 271.6,227.5 270.8,228.0 270.1,228.4 269.4,228.8 268.8,229.0 268.1,229.2 267.6,229.4 266.8,229.6 266.2,229.8 266.1,229.8Z M251.6,229.9 251.3,229.3 251.2,228.5 251.1,227.8 251.1,227.0 251.1,226.2 251.1,225.5 251.1,224.8 251.2,224.0 251.2,223.2 251.4,222.5 251.8,223.2 251.9,224.0 251.9,224.8 251.9,225.5 251.9,226.2 251.9,227.0 251.9,227.8 251.8,228.5 251.7,229.2 251.6,229.9Z M266.3,228.0 265.6,228.0 264.9,228.0 264.3,227.9 263.6,227.6 262.9,227.2 262.4,226.8 262.1,226.2 261.7,225.5 261.6,224.9 261.5,224.2 261.5,223.5 261.5,222.8 261.7,222.0 262.0,221.2 262.3,220.5 262.6,220.0 263.1,219.3 263.4,218.8 263.9,218.2 264.3,217.8 264.8,217.3 265.3,216.9 265.8,216.6 266.4,216.2 267.0,216.0 267.8,215.8 268.5,215.8 269.3,215.8 270.1,215.9 270.8,216.1 271.6,216.5 272.3,217.0 272.8,217.4 273.3,218.0 273.7,218.5 274.0,219.2 274.2,220.0 274.3,220.8 274.2,221.5 274.1,222.2 273.8,223.0 273.4,223.8 273.1,224.2 272.7,224.8 272.2,225.2 271.6,225.8 271.1,226.1 270.5,226.5 269.8,226.9 269.1,227.2 268.4,227.5 267.8,227.7 267.1,227.9 266.3,228.0 266.3,228.0Z M267.8,226.0 267.1,226.2 266.3,226.2 265.6,226.1 264.8,225.8 264.3,225.4 263.8,224.8 263.6,224.0 263.5,223.2 263.5,222.5 263.7,221.8 264.0,221.0 264.3,220.4 264.7,219.8 265.2,219.2 265.6,218.8 266.2,218.2 266.8,217.9 267.6,217.5 268.3,217.4 269.1,217.4 269.7,217.5 270.4,217.8 271.1,218.1 271.6,218.5 272.0,219.0 272.4,219.8 272.6,220.5 272.7,221.2 272.6,222.0 272.3,222.7 272.0,223.2 271.6,223.8 271.1,224.2 270.6,224.7 270.1,225.0 269.3,225.5 268.7,225.8 268.1,226.0 267.8,226.0Z M268.1,224.3 267.3,224.4 266.6,224.3 265.9,223.8 265.6,223.0 265.5,222.2 265.7,221.5 266.1,220.8 266.4,220.2 266.9,219.8 267.6,219.3 268.3,219.0 269.0,219.0 269.8,219.2 270.5,219.8 270.9,220.2 271.1,221.0 271.1,221.8 270.8,222.4 270.4,223.0 269.8,223.5 269.1,223.9 268.3,224.2 268.1,224.3Z M268.6,222.5 267.9,222.5 267.5,222.0 267.7,221.2 268.2,220.8 268.8,220.6 269.5,221.0 269.6,221.6 269.1,222.2 268.6,222.5Z" fill="none" stroke="#787878" stroke-width="0.6" stroke-linejoin="round"/>
<path d="M300.00,169.50 C300.75,168.97 302.20,168.22 303.00,168.80 C303.80,169.38 304.72,171.63 304.80,173.00 C304.88,174.37 303.43,175.67 303.50,177.00 C303.57,178.33 305.45,179.97 305.20,181.00 C304.95,182.03 303.03,183.20 302.00,183.20 C300.97,183.20 299.33,182.20 299.00,181.00 C298.67,179.80 300.08,177.50 300.00,176.00 C299.92,174.50 298.50,173.08 298.50,172.00 C298.50,170.92 299.25,170.03 300.00,169.50Z" fill="none" stroke="#787878" stroke-width="0.6"/>
<path d="M278.60,167.50 V239.50 M250.30,207.40 H321.30" stroke="#707070" stroke-width="0.9"/>
<path d="M250.30,167.50 H321.30 V239.50" fill="none" stroke="#666" stroke-width="0.9"/>
<path d="M250.30,167.50 V239.50 H321.30" fill="none" stroke="#444" stroke-width="1.0"/>
<path d="M250.30,239.50 v1.6 M250.30,239.50 h-1.6 M255.64,239.50 v0.9 M250.30,234.08 h-0.9 M258.77,239.50 v0.9 M250.30,230.91 h-0.9 M260.99,239.50 v0.9 M250.30,228.66 h-0.9 M262.71,239.50 v0.9 M250.30,226.92 h-0.9 M264.11,239.50 v0.9 M250.30,225.49 h-0.9 M265.30,239.50 v0.9 M250.30,224.29 h-0.9 M266.33,239.50 v0.9 M250.30,223.24 h-0.9 M267.24,239.50 v0.9 M250.30,222.32 h-0.9 M268.05,239.50 v1.6 M250.30,221.50 h-1.6 M273.39,239.50 v0.9 M250.30,216.08 h-0.9 M276.52,239.50 v0.9 M250.30,212.91 h-0.9 M278.74,239.50 v0.9 M250.30,210.66 h-0.9 M280.46,239.50 v0.9 M250.30,208.92 h-0.9 M281.86,239.50 v0.9 M250.30,207.49 h-0.9 M283.05,239.50 v0.9 M250.30,206.29 h-0.9 M284.08,239.50 v0.9 M250.30,205.24 h-0.9 M284.99,239.50 v0.9 M250.30,204.32 h-0.9 M285.80,239.50 v1.6 M250.30,203.50 h-1.6 M291.14,239.50 v0.9 M250.30,198.08 h-0.9 M294.27,239.50 v0.9 M250.30,194.91 h-0.9 M296.49,239.50 v0.9 M250.30,192.66 h-0.9 M298.21,239.50 v0.9 M250.30,190.92 h-0.9 M299.61,239.50 v0.9 M250.30,189.49 h-0.9 M300.80,239.50 v0.9 M250.30,188.29 h-0.9 M301.83,239.50 v0.9 M250.30,187.24 h-0.9 M302.74,239.50 v0.9 M250.30,186.32 h-0.9 M303.55,239.50 v1.6 M250.30,185.50 h-1.6 M308.89,239.50 v0.9 M250.30,180.08 h-0.9 M312.02,239.50 v0.9 M250.30,176.91 h-0.9 M314.24,239.50 v0.9 M250.30,174.66 h-0.9 M315.96,239.50 v0.9 M250.30,172.92 h-0.9 M317.36,239.50 v0.9 M250.30,171.49 h-0.9 M318.55,239.50 v0.9 M250.30,170.29 h-0.9 M319.58,239.50 v0.9 M250.30,169.24 h-0.9 M320.49,239.50 v0.9 M250.30,168.32 h-0.9" stroke="#666" stroke-width="0.5"/>
<text x="286.00" y="156.40" font-size="13.0" font-weight="bold" text-anchor="middle" fill="#000" >mIL-3</text>
<text x="247.70" y="170.90" font-size="7.4" font-weight="bold" class="sb" text-anchor="end">10<tspan font-size="4.7" dy="-4.0">4</tspan></text>
<text x="247.70" y="206.50" font-size="7.4" font-weight="bold" class="sb" text-anchor="end">10<tspan font-size="4.7" dy="-4.0">2</tspan></text>
<text x="247.70" y="242.30" font-size="7.4" font-weight="bold" class="sb" text-anchor="end">10<tspan font-size="4.7" dy="-4.0">0</tspan></text>
<text x="250.80" y="251.70" font-size="7.4" font-weight="bold" class="sb" text-anchor="middle">10<tspan font-size="4.7" dy="-4.0">0</tspan></text>
<text x="286.30" y="251.70" font-size="7.4" font-weight="bold" class="sb" text-anchor="middle">10<tspan font-size="4.7" dy="-4.0">2</tspan></text>
<text x="321.80" y="251.70" font-size="7.4" font-weight="bold" class="sb" text-anchor="middle">10<tspan font-size="4.7" dy="-4.0">4</tspan></text>
<text x="319.90" y="175.90" font-size="7.7" font-weight="bold" text-anchor="end" fill="#000" class="sb">14%</text>
<text x="251.90" y="236.90" font-size="7.7" font-weight="bold" text-anchor="start" fill="#000" class="sb">72%</text>
<text x="319.70" y="237.00" font-size="7.7" font-weight="bold" text-anchor="end" fill="#000" class="sb">12%</text>
<path d="M17.0,258.6 V199 M16.4,258.6 H88" stroke="#000" stroke-width="1.3" fill="none"/>
<path d="M17.0,194.6 L14.9,200.6 L19.1,200.6Z M92.8,258.6 L86.8,256.3 L86.8,260.9Z" fill="#000"/>
<text x="11.00" y="211.50" font-size="13.6" font-weight="bold" text-anchor="middle" fill="#000" transform="rotate(-90 11.0 211.5)" letter-spacing="0.4">PI</text>
<text x="55.00" y="272.30" font-size="12.9" font-weight="bold" text-anchor="middle" fill="#000" >Annexin</text>
<path d="M382.60,160.80 V243.60 H507.6" fill="none" stroke="#000" stroke-width="1.2"/>
<path d="M380.40,243.60 H382.60" stroke="#000" stroke-width="0.8"/>
<text x="379.80" y="245.70" font-size="5.9" font-weight="bold" text-anchor="end" fill="#000" class="sc">0</text>
<path d="M380.40,223.00 H382.60" stroke="#000" stroke-width="0.8"/>
<text x="379.80" y="225.10" font-size="5.9" font-weight="bold" text-anchor="end" fill="#000" class="sc">25</text>
<path d="M380.40,202.40 H382.60" stroke="#000" stroke-width="0.8"/>
<text x="379.80" y="204.50" font-size="5.9" font-weight="bold" text-anchor="end" fill="#000" class="sc">50</text>
<path d="M380.40,181.80 H382.60" stroke="#000" stroke-width="0.8"/>
<text x="379.80" y="183.90" font-size="5.9" font-weight="bold" text-anchor="end" fill="#000" class="sc">75</text>
<path d="M380.40,161.20 H382.60" stroke="#000" stroke-width="0.8"/>
<text x="379.80" y="163.30" font-size="5.9" font-weight="bold" text-anchor="end" fill="#000" class="sc">100</text>
<text x="368.60" y="200.80" font-size="6.0" font-weight="bold" text-anchor="middle" fill="#000" class="sb" transform="rotate(-90 368.6 200.8)">% living cells</text>
<defs><pattern id="hatch" patternUnits="userSpaceOnUse" width="2.6" height="2.6" patternTransform="rotate(45)"><rect width="2.6" height="2.6" fill="#fff"/><path d="M0.65,0 V2.6" stroke="#000" stroke-width="1.25"/></pattern></defs>
<rect x="386.60" y="173.56" width="23.80" height="70.04" fill="#fff" stroke="#000" stroke-width="1.1"/>
<path d="M398.50,173.56 V172.90 M393.00,172.90 h11" stroke="#000" stroke-width="1.0"/>
<path d="M398.50,243.60 v3" stroke="#000" stroke-width="0.9"/>
<rect x="417.50" y="187.32" width="23.80" height="56.28" fill="#fff" stroke="#000" stroke-width="1.1"/>
<path d="M429.40,187.32 V187.07 M423.90,187.07 h11" stroke="#000" stroke-width="1.0"/>
<path d="M429.40,243.60 v3" stroke="#000" stroke-width="0.9"/>
<rect x="448.40" y="184.27" width="23.80" height="59.33" fill="url(#hatch)" stroke="#000" stroke-width="1.1"/>
<path d="M460.30,184.27 V181.80 M454.80,181.80 h11" stroke="#000" stroke-width="1.0"/>
<path d="M460.30,243.60 v3" stroke="#000" stroke-width="0.9"/>
<rect x="479.40" y="240.88" width="23.80" height="2.72" fill="url(#hatch)" stroke="#000" stroke-width="1.1"/>
<path d="M491.30,240.88 V240.47 M485.80,240.47 h11" stroke="#000" stroke-width="1.0"/>
<path d="M491.30,243.60 v3" stroke="#000" stroke-width="0.9"/>
<text x="399.10" y="253.00" font-size="6.05" font-weight="bold" text-anchor="end" fill="#000" class="sb" transform="rotate(-45 399.10 253.00)">TRKB+IL3</text>
<text x="430.00" y="253.00" font-size="6.05" font-weight="bold" text-anchor="end" fill="#000" class="sb" transform="rotate(-45 430.00 253.00)">TRKB+IL3+K252a</text>
<text x="460.90" y="253.00" font-size="6.05" font-weight="bold" text-anchor="end" fill="#000" class="sb" transform="rotate(-45 460.90 253.00)">TRKB+BDNF</text>
<text x="491.90" y="253.00" font-size="6.05" font-weight="bold" text-anchor="end" fill="#000" class="sb" transform="rotate(-45 491.90 253.00)">TRKB+BDNF+K252a</text>
</svg>
</body></html>
